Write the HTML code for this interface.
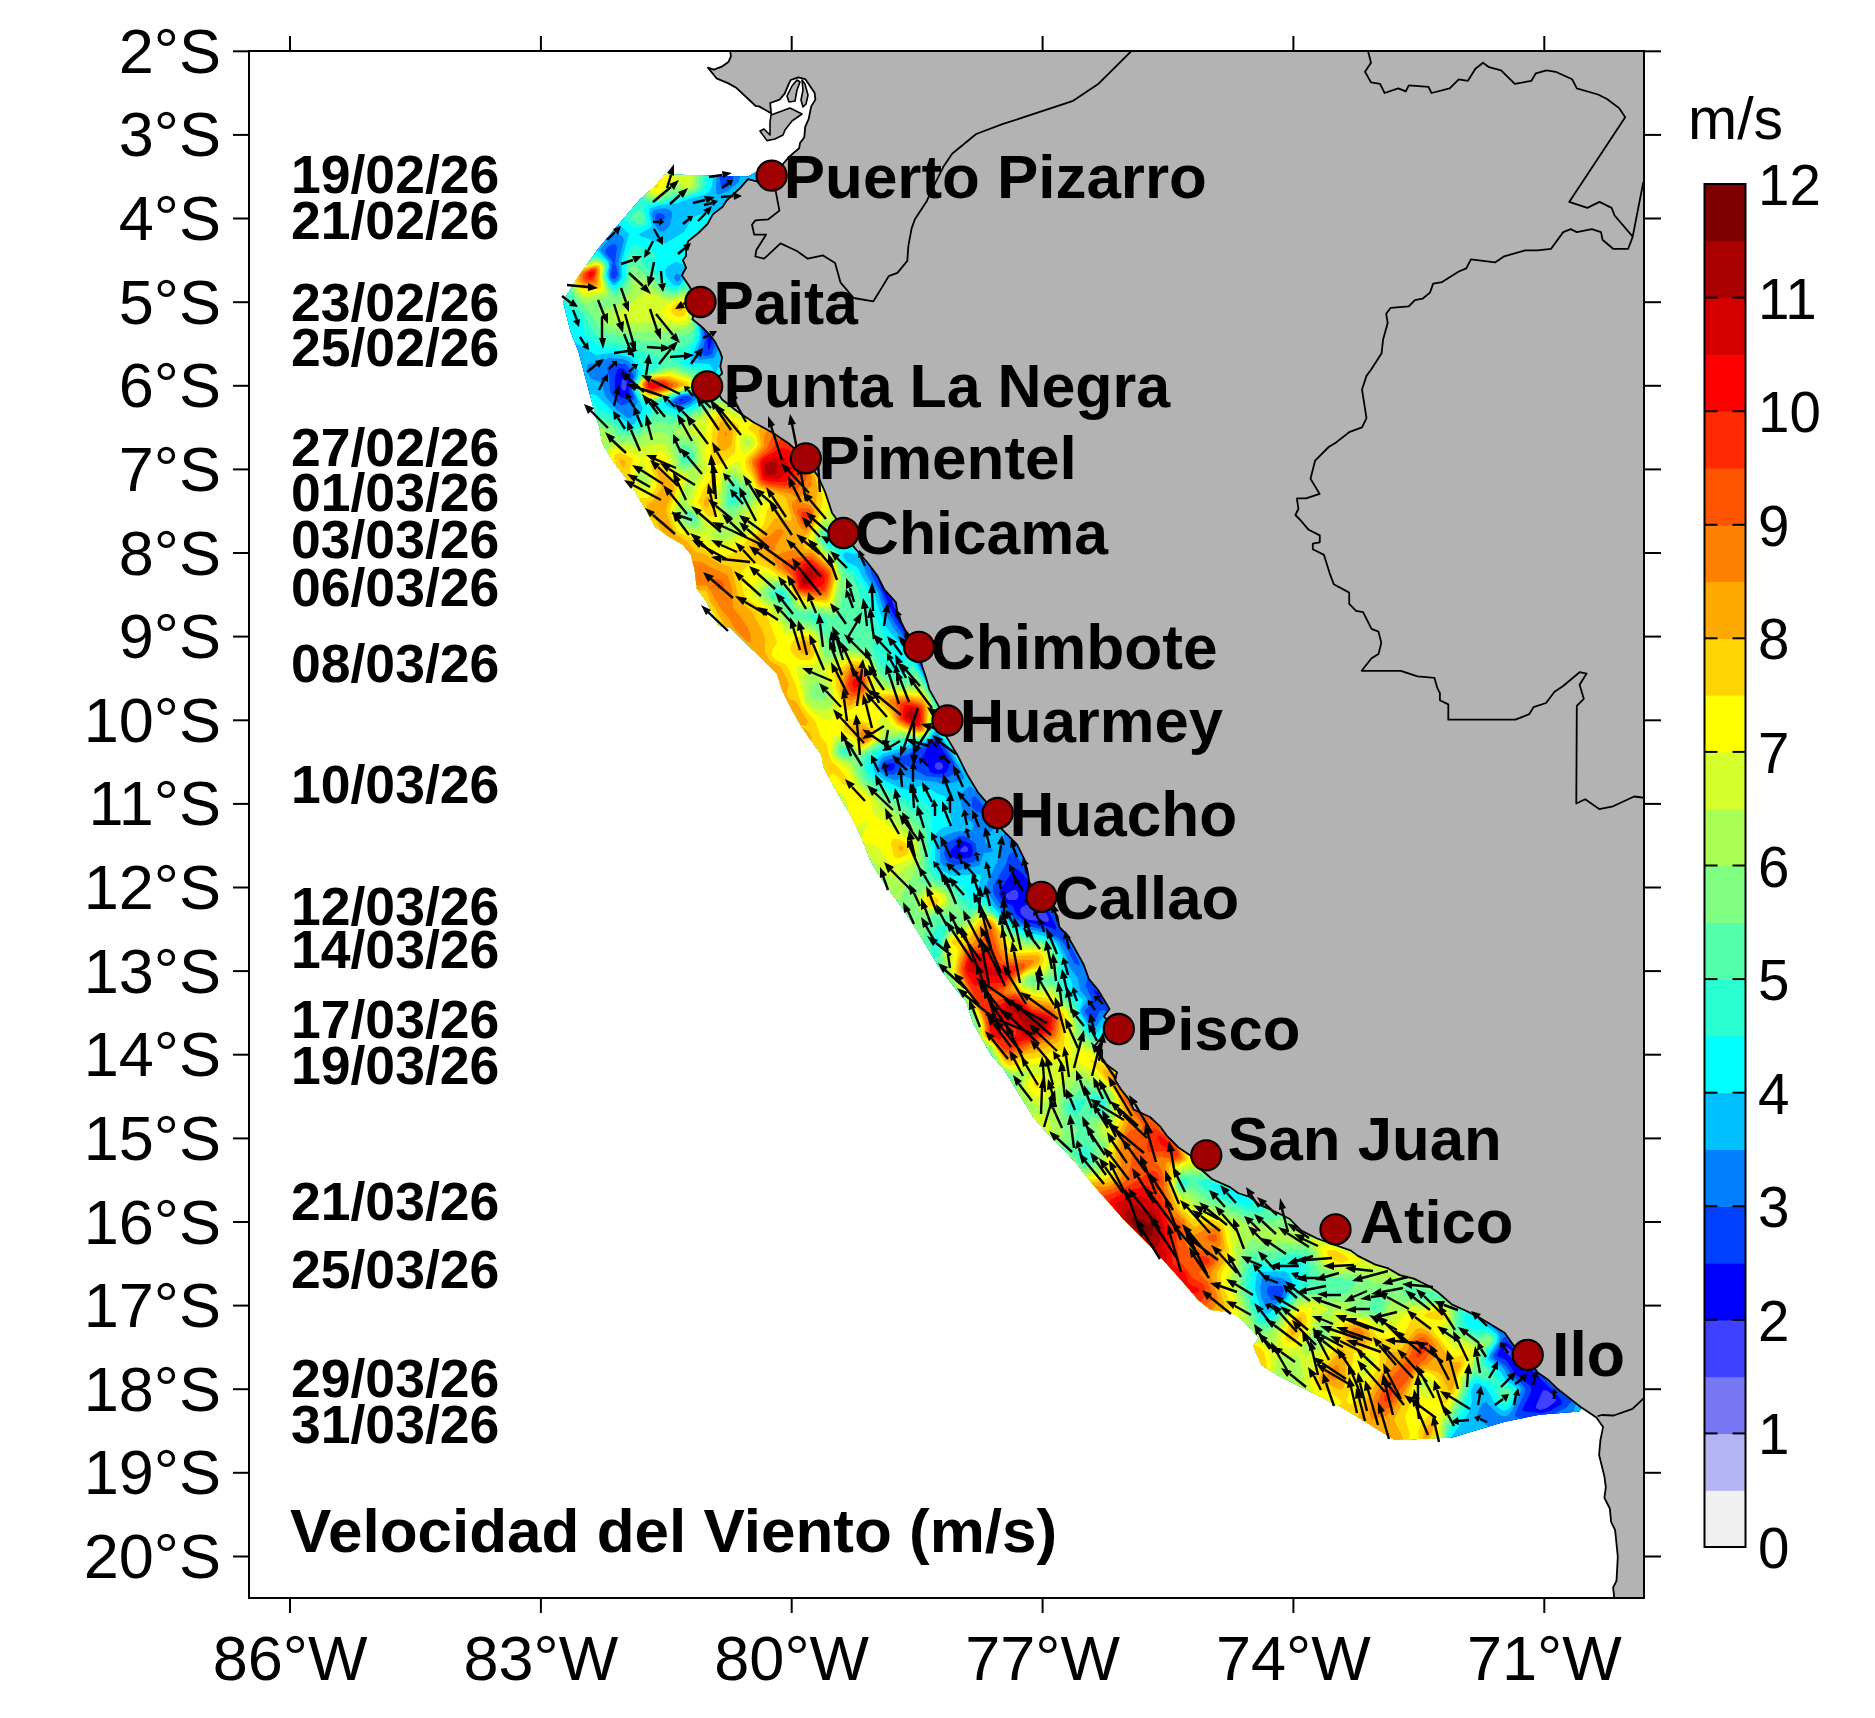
<!DOCTYPE html>
<html><head><meta charset="utf-8"><style>
html,body{margin:0;padding:0;background:#fff;}
body{width:1875px;height:1718px;overflow:hidden;}
svg{display:block;}
text{font-family:"Liberation Sans",sans-serif;}
</style></head><body>
<svg xmlns="http://www.w3.org/2000/svg" width="1875" height="1718" viewBox="0 0 1875 1718">
<rect width="1875" height="1718" fill="#fff"/>
<clipPath id="fr"><rect x="249" y="51" width="1395" height="1547"/></clipPath>
<g clip-path="url(#fr)"><clipPath id="bandclip"><polygon points="748.0,176.5 664.9,174.6 655.3,186.1 639.9,199.6 616.8,226.5 597.6,249.5 578.4,276.4 563.0,301.4 570.7,332.1 578.4,351.3 586.1,380.2 593.8,409.0 599.6,428.2 602.0,442.0 611.7,459.6 631.5,485.3 645.3,509.1 655.2,526.9 669.0,536.8 682.9,544.7 690.8,554.6 694.8,570.4 696.8,588.2 706.7,602.1 718.5,625.8 730.4,627.8 738.3,635.7 752.2,649.6 762.0,659.0 777.0,674.0 782.0,690.0 791.0,708.0 801.0,726.0 813.5,744.0 821.5,755.0 823.3,766.2 830.8,781.1 838.2,794.2 849.4,812.8 856.8,827.7 864.3,844.4 869.9,859.3 877.3,872.4 888.5,889.1 902.8,908.4 919.6,934.5 938.2,966.1 956.8,990.4 966.1,1001.5 973.6,1023.9 990.4,1053.7 1003.4,1068.6 1018.3,1092.8 1033.2,1117.0 1046.2,1131.9 1064.8,1150.5 1079.7,1167.3 1091.5,1183.1 1109.3,1202.9 1123.1,1218.7 1139.0,1234.6 1154.8,1250.4 1170.6,1268.2 1186.4,1286.0 1198.3,1299.9 1210.2,1309.8 1226.0,1311.8 1237.9,1315.7 1249.8,1327.6 1259.0,1338.0 1253.0,1346.0 1261.7,1365.2 1277.5,1375.1 1297.3,1385.0 1317.1,1394.9 1336.9,1404.8 1351.0,1413.0 1373.6,1427.0 1394.6,1440.0 1434.7,1438.3 1452.2,1437.4 1504.6,1421.7 1539.5,1414.7 1579.0,1411.5 1588.0,1398.0 1600.0,700.0 900.0,300.0 760.0,170.0"/></clipPath>
<g clip-path="url(#bandclip)"><polygon points="748.0,176.5 664.9,174.6 655.3,186.1 639.9,199.6 616.8,226.5 597.6,249.5 578.4,276.4 563.0,301.4 570.7,332.1 578.4,351.3 586.1,380.2 593.8,409.0 599.6,428.2 602.0,442.0 611.7,459.6 631.5,485.3 645.3,509.1 655.2,526.9 669.0,536.8 682.9,544.7 690.8,554.6 694.8,570.4 696.8,588.2 706.7,602.1 718.5,625.8 730.4,627.8 738.3,635.7 752.2,649.6 762.0,659.0 777.0,674.0 782.0,690.0 791.0,708.0 801.0,726.0 813.5,744.0 821.5,755.0 823.3,766.2 830.8,781.1 838.2,794.2 849.4,812.8 856.8,827.7 864.3,844.4 869.9,859.3 877.3,872.4 888.5,889.1 902.8,908.4 919.6,934.5 938.2,966.1 956.8,990.4 966.1,1001.5 973.6,1023.9 990.4,1053.7 1003.4,1068.6 1018.3,1092.8 1033.2,1117.0 1046.2,1131.9 1064.8,1150.5 1079.7,1167.3 1091.5,1183.1 1109.3,1202.9 1123.1,1218.7 1139.0,1234.6 1154.8,1250.4 1170.6,1268.2 1186.4,1286.0 1198.3,1299.9 1210.2,1309.8 1226.0,1311.8 1237.9,1315.7 1249.8,1327.6 1259.0,1338.0 1253.0,1346.0 1261.7,1365.2 1277.5,1375.1 1297.3,1385.0 1317.1,1394.9 1336.9,1404.8 1351.0,1413.0 1373.6,1427.0 1394.6,1440.0 1434.7,1438.3 1452.2,1437.4 1504.6,1421.7 1539.5,1414.7 1579.0,1411.5 1588.0,1398.0 1600.0,700.0 900.0,300.0 760.0,170.0" fill="#a0ff60"/><rect x="550" y="160" width="1060" height="1295" fill="#f0f0f0"/>
<path d="M552 160l1058 0 0 1296-1060 0 0-1296 2 0z" fill="#b4b4f4" fill-rule="evenodd"/>
<path d="M552 160l1058 0 0 1296-1060 0 0-1296 2 0z" fill="#7878f5" fill-rule="evenodd"/>
<path d="M552 160l1058 0 0 1296-1060 0 0-1296 2 0z" fill="#4040ff" fill-rule="evenodd"/>
<path d="M552 160l1058 0 0 13-22 11-540 314-48 28-9 6-1 2 2 5 24 35 4 3 4-1 528-181 58-19 0 206-86 42-16 9-330 167-6 4 0 2 22 34 4 3 3-1 306-180 99-60 4-2 0 88-4 4-2 0-4 4-6 2-4 4-6 2-4 4-6 2-4 4-6 2-4 4-6 2-4 4-6 2-4 4-6 2-4 4-6 2-4 4-6 2-4 4-6 2-4 4-6 2-4 4-6 2-4 4-6 2-4 4-6 2-4 4-2 0-2 2-2 0-4 4-6 2-10 8-6 2-4 4-6 2-4 4-6 2-4 4-6 2-4 4-6 2-4 4-6 2-4 4-6 2-4 4-6 2-4 4-6 2-4 4-6 2-4 4-6 2-4 4-2 0-6 4 2 0 2-2 2 0 2-2 2 0 2-2 2 0 2-2 2 0 2-2 2 0 2-2 2 0 2-2 2 0 2-2 2 0 2-2 2 0 2-2 2 0 2-2 2 0 2-2 2 0 2-2 2 0 2-2 2 0 2-2 2 0 2-2 2 0 2-2 2 0 2-2 2 0 2-2 2 0 2-2 2 0 2-2 2 0 2-2 2 0 2-2 2 0 2-2 2 0 2-2 2 0 2-2 2 0 2-2 2 0 2-2 2 0 2-2 2 0 2-2 2 0 2-2 2 0 2-2 2 0 2-2 2 0 2-2 2 0 2-2 2 0 2-2 2 0 2-2 2 0 2-2 2 0 2-2 2 0 2-2 2 0 2-2 2 0 2-2 2 0 2-2 2 0 2-2 2 0 2-2 2 0 2-2 2 0 2-2 2 0 2-2 2 0 2-2 2 0 2-2 2 0 2-2 2 0 2-2 2 0 2-2 2 0 2-2 2 0 2-2 2 0 2-2 14-6 2-2 2 0 2-2 2 0 2-2 2 0 2-2 2 0 2-2 2 0 2-2 2 0 2-2 2 0 2-2 2 0 2-2 2 0 2-2 2 0 2-2 14 0 0 562-78 38-5 4 3 7 10 13 8 4 12 2 0 24 2 5 4 3 2-1 3-5 6-16-1-6-4-6-2 0 0-2-2 0 0-2 34-36 8-5 0 147-1060 0 0-1296 2 0zM622 380l-1 6 1 3 2 2 2-2 1-7-1-2-2-1-2 1zM883 568l1 9 10 29 24 39 10 12 40 43 18 18 6 4-8-14-32-46-62-88-6-7-1 1zM935 764l0 4 3 2 2 0 3-2 0-2-1-3-4-1-3 2zM964 846l-4 4 1 2 6 0 1-2 0-2-2-2-2 0zM1312 868l2 0-2 0zM1308 870l2 0-2 0zM1013 890l-7 4 0 4 3 2 7 0 2-2 0-6-2-2-3 0zM1031 898l-2 6-7 3-2 3 1 4 4 4 4 2 19 2 1-2-1-4-8-12-6-7-2-1-1 2zM1504 1348l0 3 6 5 8 11 8 5 0-2-4-6-12-15-4-2-2 1zM1542 1392l-6 14 0 2 4 2 7-2 8-6 1-2-2-4-6-5-4-1-2 2z" fill="#0000ff" fill-rule="evenodd"/>
<path d="M552 160l928 0 0 12-2 2-4 0-2 2-4 0-2 2-4 0-2 2-4 0-2 2-4 0-2 2-4 0-2 2-4 0-2 2-4 0-2 2-4 0-2 2-4 0-2 2-4 0-2 2-4 0-2 2-4 0-2 2-4 0-2 2-4 0-2 2-4 0-2 2-4 0-2 2-4 0-2 2-4 0-2 2-4 0-2 2-4 0-2 2-4 0-2 2-4 0-2 2-4 0-2 2-4 0-2 2-4 0-2 2-4 0-2 2-4 0-2 2-4 0-2 2-4 0-2 2-4 0-2 2-4 0-2 2-6 2-12 10-2 0-4 4-2 0-4 4-2 0-6 6-2 0-4 4-2 0-6 6-2 0-4 4-2 0-6 6-2 0-4 4-2 0-6 6-2 0-4 4-2 0-6 6-2 0-4 4-2 0-6 6-2 0-6 6-2 0-4 4-2 0-6 6-2 0-4 4-2 0-6 6-2 0-4 4-2 0-6 6-2 0-4 4-2 0-14 12-2 0-4 4-2 0-12 10-2 0-108 108 0 2 6 8 0 2 4 4 0 2 4 4-4 20 1 6 27 40 4 3 4 1 588-201 0 200-90 44-12 8-334 169-5 4 2 6 23 34 4 2 4-1 228-134 180-108 0 66-12 7-322 194-36 22-5 4-1 2 2 6 10 14 6 4 20 6 0 2 6 6 0 2 4 4 0 2 4 4 0 2 4 4 0 2 4 4 0 2 4 4 0 2 4 0 6-4 4 0 2-2 2 0 10-6 4 0 2-2 14-6 4-4 14-6 6-6 2 0 6-6 2 0 8-8 2 0 6-6 2 0 6-6 2 0 6-6 2 0 6-6 2 0 6-6 2 0 6-6 2 0 6-6 2 0 20-18 2 0 10-10 2 0 20-18 2 0 45-44 33-24 24-20 6-3 0 546-82 40-4 3 0 2 8 14 10 12 13 20 6 12 11 9 2-1 32-46 4-3 0 109-1060 0 0-1296 2 0zM613 272l1 2 0-3-1 1zM711 318l-3 5-1 5 1 22 2-2 3-12 1-16-2-3-1 1zM617 370l-2 8 0 12 5 7 2 1 4 0 3-2 1-2-1-6 2-8-1-4-6-7-4-1-3 2zM679 400l1 1 4-1-2-1-3 1zM846 462l6 29 24 83 13 32 61 103 14 17 218 234 36 38 16 15 1-1-1-2-4-7-34-49-340-482-8-11-2 0 0 1zM933 742l-6 6-5 10 4 5 4 9 6 2 8 0 2-2 3-4 0-8-11-18-2-1-3 1zM887 764l-2 4 1 2 4 1 3-1 2-4-1-3-7 1zM959 842l-8 8-1 4 2 3 6 2 10-1 4-2 1-6-2-6-7-3-5 1zM1013 870l-13 20-1 4 3 6 4 3 7 3 3 8 10 8 20 4 10 4 0-4-5-10-21-34-10-11-4-2-3 1zM1094 992l6 7 3 1-5-8-4-2 0 2zM1506 1342l-2 1-6 9-1 4 9 4 10 15 12 9 3 4 0 4-9 18 4 2 16 1 8-2 12-7-1-4-3-4-22-22-26-29-4-3z" fill="#0040ff" fill-rule="evenodd"/>
<path d="M552 160l168 0-1 12 2 14 1 3 7-3 4-6 1-20 731 0-9 4-180 61-16 14-56 39-147 106-26 24-72 72-4 6 1 4 25 38 5 10 15 24 14 18 3 2 4 0 588-201 0 196-6 2-84 42-12 7-334 169-5 3-2 4 2 6 20 30 4 6 8 6 7 10 6 4 18 4 4 4-5 20 1 8 56 80 2 2 2 1 58-25 16-9 10-4 74-55 65-54 71-74 8-10 12-11 4-2 0 391-2 2 0 2-4 4-2 6-4 4-2 6-4 4-2 6-4 4-2 6-8 10-2 6-4 4 0 2-6 8-2 6-4 4-2 6-8 10 0 2-6 8-2 6-4 4-2 10-2 2 0 4-2 2-2 10-2 2 0 4-2 2 0 4-2 2 0 6 6 8-6 16 0 8 30 44 7 14-1 1-6-5-46-49-2 0-11 19 3 4 10 6 6 10 10 8 3 4 0 4-10 22 0 2 3 2 8 0-6 2-2 3 0 3 10 16 2 14-980 0 0-1296 2 0zM656 214l-1 2 1 4 4 3 2-1 3-4-1-3-4-2-4 1zM609 246l-3 3-1 3 8 10-3 12 1 4 3 1 2-1 2-4-3-12 2-14-1-3-2-1-5 2zM722 268l-16 28-4 10 0 11 3 23-3 12 0 2 2 2 4 0 4-2 2-6 9-60 1-16-2-4zM809 356l1 8 8 30 48 158 6 24 9 16 6 18 25 40 52 94 18 30 14 16 374 402 78 82 24 23 0-3-12-18-88-126-552-783-8-11-2-2-1 2zM610 364l-3 4 2 8 1 16 8 11 2 2 4 0 9-5 1-2-3-12 3-10-8-12-10-1-6 1zM682 396l-7 4-1 2 2 2 4 1 4-1 7-4 1-2-4-2-6 0zM1148 656l-20 4-40 16-3 2 0 4 3 4 4 3 18 4 44-31 3-4-3 0-2-2-4 0zM935 738l-13 9-16 8-20 5-4 4 0 6 6 4 6 1 8-9 4-1 20 11 18 2 7-2 5-5-2-9-12-19-4-5-3 0zM972 798l0 10 5 4 9 3 0-3-2-4-6-9-4-3-2 2zM959 836l-13 8-2 10 2 6 4 3 6 2 18-3 2-2 1-4-1-12-6-5-6-3-5 0zM1009 854l-3 10-13 22 0 6 2 4 5 8 6 4 6 8 10 7 6 3 18 4 14 9 7 9 7 15 5 3 1-2-4-8-19-36-20-34-21-31-4-3-3 2zM1087 978l-1 8 6 14-1 4-6 6 0 2 5 8 2 2 2 0 6-11 4-1 22 23 4 2 4-2 0-3-2-4-29-36-11-11-4-2-1 1zM1269 1286l-2 2 0 4 4 8 5 0 6-4 2-6-2-4-13 0zM1608 1352l2-1 0 105-57 0 0-12-4-28 17-8 4-5 5-3 33-48z" fill="#0080ff" fill-rule="evenodd"/>
<path d="M552 160l166 0-1 8-1 24 2 3 10-4 11-9 1-4 0-18 717 0-181 61-7 9-11 9-84 59-106 76-34 26-80 65-4 19 0 6 26 40 2 4 0 3-198-280-6-8-1 1 0 2 3 16 12 42 74 238 2 8 0 10 2 8 12 18 5 16 9 18 16 21 15 25 56 106 14 28-1 3-18-20-4-3-2 1-5 5-3 6 3 16 3 4 6 4 1 2 0 4-3 4-12-1-12 4-4 2-2 11 0 14 4 4 12 5 22-5 2-2 4-11 8-1 1-2-8-8 0-2 1-4 4-4 4-3 9 1 1 4-2 12-5 16-9 19-2 7 1 4 11 16 9 8 13 9 8 4 18 4 13 9 8 16 3 10 8 10 2 12 7 8 0 4-5 6-1 4 9 13 4 3 2-1 6-9 2-1 2 0 40 47 16 16 1-2-1-12 3-4 0-2-20-30-1-2 2-2-2-6-104-142-12-19-1-3 1-1 26 24 38 38 388 398 18 17 2 4-1 6-8 12-1 4 13 10 6 10 11 8 1 4-7 17-4 6-4 3-4 0-4-2-12-12-4 2-4 8-1 4 2 4 12 8-3 10 5 18-943 0 0-1296 2 0zM692 202l2 2 2 0 2-2-6 0zM654 210l-3 4 2 6 5 10 2 2 4-1 4-3 2-4 2-8 0-4-2-2-6-2-10 2zM731 220l-34 64 0 14 5 40-6 18 1 2 3 2 14-2 3-6 17-117 0-17-3 2zM614 234l-12 13-2 3 10 12-1 14 1 4 4 3 4-3 2-4-1-16 5-20-2-4-4-2-4 0zM676 274l-2 4 2 3 2 0 2-1 1-4-2-2-3 0zM815 282l-2 4 3 3 6 2 5-1-1-4-4-4-4-1-3 1zM609 358l-13 5-8 1-1 4 2 8 3 3 8 3 2 2 3 12 11 13 12 9 3 0 2-2 1-8 4-6-6-14 0-4 4-8 0-4-8-11-6-2-13-1zM679 396l-4 2-4 4 3 4 6 2 10-4 10-8-14-2-7 2zM934 736l-4 4-8 5-38 12-3 3-2 4-1 4 2 4 6 5 8 3 4 0 6-4 8 3 24 3 8 3 18-5 2-2 0-2-14-24-12-17-2-1-2 2zM1262 1278l-2 8 1 10 4 10 3 2 2 0 15-10 3-6 1-6-3-5-4-3-14-2-6 2zM1606 384l4-1 0 29-6 2-4 4-10 4-4 4-10 4-4 4-10 4-4 4-10 4-4 4-10 4-4 4-10 4-4 4-10 4-4 4-10 4-4 4-10 4-4 4-10 4-4 4-10 4-4 4-10 4-4 4-10 4-4 4-10 4-4 4-10 4-4 4-10 4-4 4-10 4-4 4-10 4-4 4-10 4-4 4-10 4-4 4-6 2-4 4-6 2-4 4-6 2-4 4-6 2-4 4-2 0-6 4-22-2-12 4-84 41-65 25-7 4-4 5-7-7-60-90 0-2 1 0 24 6 8 0 2 0 2-2 4 0 2-2 4 0 2-2 8-2 2-2 14-4 8-4 4 0 2-2 4 0 18-8 10-2 6-4 4 0 192-70 274-102zM1086 692l18 24 6 2 22 2 0 2 4 4 0 2 4 4 0 2 4 4 0 2 4 4 0 2 4 4 0 2 4 4 0 2 4 4 0 2 4 4 0 2 4 4 0 2 4 4 0 2-10 25-57-83-19-29-1-3 1 0zM1608 743l2-1 0 362-72 117-16 29-19 54 0 4 11 16 0 4-20-28-83-122-91-135-27-39-7-10-1-4 1-2 4 0 59-26 17-9 12-4 66-50 72-60 72-75 8-10 12-11zM1206 870l6 5 12 19 1 4-1 1-2-3-12-17-4-7 0-2zM1610 1355l0 69-28 0-6-6-2-6 1-6 35-51z" fill="#00c0ff" fill-rule="evenodd"/>
<path d="M552 160l163 0-3 26-3 6-5 3-13 3-13 5-22 3-6 2-1 6 3 12-2 2-11 6 1 2 6 2 14 5 6 0 18-11 8-14 6-3 17-3 0 4-3 6-22 43-2 2-2-1-6-3-4-1-8 4-3 4 0 4 4 6 3 4 4 2 4-1 6-9 2-2 2 2 10 58-1 6-9 20 1 2 3 1 14 1 3 2 3 6 2 0 3-6 2-8 23-152 2-6 2 0 4 8 7 20 99 316 1 6-1 3-4 1-8-2-3 2 1 4 3 4 9 4 2 2 6 12 10 12 5 18 8 18 6 8 13 13 10 14 48 91 12 24 2 8 0 1-2-2-6-6-26-39-8-9-2 1-4 6-8 5-10 1-10 4-20 6-4 4-4 6-1 4 1 4 10 8 18 9 8 1 10-4 6 0 12 8 7 2 7 26-4 4-9 4-3 4-1 24 3 10 4 3 12 5 22-2 4 1 1 3-4 12 1 4 8 4 8 10 8 8 20 14 8 3 14 3 12 7 8 15 2 14 5 8 3 12 9 8-4 12 10 16 5 4 4 1 6-9 2-1 4 3 44 54 42 47 2 2 2-1-8-22 0-8 3-8-11-20 6 2 24 17 4 1 0-2-72-100-4-6 0-2 18 15 64 64 256 262 17 13 1 4-1 4-8 12-1 6 10 8 8 12 11 8 0 6-7 14-6 3-4-2-4-4-10-17-8-5-4 1-3 8 1 10-3 10-17 24 0 8 3 12-905 0 0-1052 42-10 4 1 20 19 14 11 4-1 2-2 7-14-10-20 1-4 4-8 1-4-5-10-4-5-20-4-14 2-22-13-24 5 0-187 2 0zM584 216l0 4 10 12 2 2 6 0 2 1-6 10-1 5 11 12 1 4-2 8 1 4 4 7 4 0 6-7 0-18 7-26-7-7-10-7-22-6-6 2zM707 384l-5 2-6 7-15 1-9 4-7 6 2 2 11 5 10-3 16-10 6-12-1-2-2 0zM1260 1272l-3 2-1 4-1 12 5 16 4 7 4 1 18-14 5-8 2-8-4-10-5-3-24 1zM1260 222l8-1 3 3-1 4-10 9-46 31-174 125-102 69-6-1-5-5-82-120-4-8 1-4 4-5 34-28 4-2 172-27 204-40zM1606 386l4-1 0 10-282 161-62 37-32 15-80 40-72 28-4 0-5-4-37-56 0-4 2-4 12-5 300-115 256-102zM1608 744l2-1 0 359-18 27-67 111-12 22-3 14-6 18-2 3-2 0-3-3 1-4 11-24-1-1-6 5-10 11-4 1-4-4-21-30-11-20-15-18-52-76-9-16-27-40-5-10-18-28-9-8-7-8-19-28-1-4 2-4 10-5 49-21 17-9 11-3 65-49 20-18 52-42 37-39 6-8 29-29 7-9 13-12z" fill="#00ffff" fill-rule="evenodd"/>
<path d="M622 160l87 0-3 26-2 4-7 4-17 5-34 7-1 4 3 14-6 3-8 1-9-8-8-10 0-2 13-1 9-5 1-2 0-6-2-6-15-24-1-4zM750 221l4 5 10 28 85 268 5 20-2 4-4 0-10-4-8-5-2 1-1 4 3 3 7 3 7 16 10 7 7 11 9 12 3 18 20 40 0 2-2 8 1 6 4 4 4 0 6-14 4 2 4 4 10 16 22 42 16 32 5 12-1 1-4-4-20-29-6-6-2 0-6 10-6 3-12 1-8 3-22 5-4 4-7 10-1 4 1 4 13 12 24 15 6 2 8-1 8 5 2 3 2 16 0 38 1 6 3 5 26 13 4 4 3 8 5 4 2 1 6-2 4 1 6 8 12 11 14 10 10 4 16 3 10 6 7 14 1 4-1 12 6 18 3 5 8 5 0 12 10 18 10 6 4-2 4-6 2-1 4 3 46 58 56 66 20 21 2 2 1-1-14-34-1-8 3-16-5-14 8 4 56 42 6 4 1-2-35-50-2-4-1-2 1 0 42 39 162 165 9 12-3 6 2 6 10 4 10-1 8 5 2 4 0 4-9 10-2 8 1 3 8 7 9 12 10 6 2 2-1 4-4 8-2 2-4 2-7-6-2-4-1-7-3-3-13-7-4 1-2 1-2 5-7 26-11 17-4 7 0 12 2 8-900 0 0-1050 34-7 6 0 4 3 4 7 10 4 18 15 4 1 7-3 9-12 6-5 10 0 14 4 4 0 12-4 14-8 8-13 8-6 4-12 20-138 2-8 2-3zM735 496l1 1 1-1-1-2-1 2zM936 938l-2 4 2 4 2-1 1-5-1-3-2 1zM1210 1184l2 4 12 8 24 10 4 0 1-2-1-3-4-4-26-11-8-2-4 0zM1289 1262l-13 4-18 1-4 2-2 3-2 12 4 17 6 15 4 4 7-2 15-14 12-18 3-22-3-4-9 2zM1258 224l10 0 1 2-2 4-9 7-44 30-132 96-52 36-72 47-16 12-6 2-4 0-5-6-36-52-44-66-4-8 0-4 5-5 32-26 6-3 172-27 200-39zM552 226l8 0 4 2 20 18 22 16 2 4-2 8 1 4 3 7 4 4 4-2 6-7 1-4 0-18 5-11 4-3 21 8 2 4-3 6 0 4 16 21 4 2 4-1 8-7 2 0 5 17 4 26 1 10-6 13-11 13 3 4 4 2 14 2 4 3 1 5-1 2-6 5-4 8-16 3-28 12-6-1-4-4-8-13 1-4 9-14-10-16-6-3-24-3-6-3-12-9-1-2-1-8-6-11-4-4-12-8-12 0 0-77 2 0zM1606 388l4-2 0 7-282 161-60 36-114 56-74 29-5-3-36-56-1-4 1-2 11-5 299-115 257-102zM1608 745l2-1 0 356-3 2-16 26-75 124-8 8-16 18-4 1-25-35-2-6-3-18-12-3-7-7-52-76-11-20-25-36-2-8-1-30 4-4 0-2 6-8 2-6 4-4 0-2 6-8 2-6 4-4 2-6 4-4 4-10 4-4 0-2 6-8 2-6 59-64 59-50 92-97zM1368 954l6-1 7 3 5 4 0 2 2 0 0 2-2 2 0 2-10 12 0 2-4 4 0 2-4 4 0 2-4 4 0 2-4 4 0 2-4 4 0 2-4 4 0 2-4 4 0 2-4 4 0 2-2 2-16 1-6-1-8-8-17-24-3-6 0-4 10-6 50-21 16-9z" fill="#2affd4" fill-rule="evenodd"/>
<path d="M624 160l81 0-3 26-4 5-12 5-6 1-6-1-10 5-16 1-3-2-5-12-16-28zM636 211l4 0 3 3 2 6-1 2-2 2-6 0-5-6 1-4 4-3zM1254 226l10-1 3 1 0 2-9 9-44 30-134 96-138 94-6 2-4-1-5-6-32-46-48-72-3-6 1-4 3-4 32-26 6-3 172-27 196-38zM754 241l4 6 8 23 82 260 1 6-1 2-2 2-6-2-10-6-4 0-2 4 0 6 4 6 8 4 8 17 6 5 4 6 8 20 3 14 7 16 2 22 8 15 8 8 10 3 3 0 3-2 5-8 3 0 2 2 16 28 18 35 5 13-1 1-16-21-4-2-4 10-6 5-6 1-10-1-22 5-11 6-9 8-3 4 0 4 2 8 3 4 16 13 30 21 11 14 2 8 1 30 4 12 22 12 8 13 8 8 4 0 6-4 4 0 12 10 10 10 10 8 12 5 16 3 8 5 7 14-2 20 9 18 9 8 2 10 7 16 6 5 10 6 4-1 5-6 5 2 40 52 70 84 8 10-2 2-2-1-20-6-10 1 0 2 1 2 6 6 7 5 34 16 12 2 6-2 0-5-10-20-2-8 4-28-2-8 2-1 2 1 96 74 10 6 1-2-1-4 2 1 12 10 78 77 3 6 0 12 3 6 14 7 10-2 4 1 3 2 1 2-1 4-8 10-3 8 1 4 10 12 0 4-17-5-6 5-12 32-11 20-1 14 2 10-898 0 0-1034 8 3 2 3 8 1 20-7 10-6 12 4 14 12 8 0 8-4 8-10 6-4 6 0 14 3 6 0 26-13 10-12 8-1 2-1 6-16 18-122 2-9 2-2zM685 454l-1 4 1 2 3 1 2-1 1-4-1-2-2-1-3 1zM732 488l-2 8 0 6 4 1 7-3 3-4-2-4-6-5-2 0-2 1zM775 590l-1 2 0 4 14 8 1-4-5-10-4-1-5 1zM808 616l14 10 2 1 2-1-1-6-5-4-8-2-4 2zM842 750l0 2 2 2 3 0 1-2-2-3-2-1-2 2zM937 926l-3 6-4 5-1 3 5 19 2-1 2-3 5-19 4-8-3-3-4 0-3 1zM1092 1096l-3 2 5 11 6 4 4-1 1-10-2-4-5-2-6 0zM1084 1098l-10 2-5 4-1 4 4 5 4 1 4-3 6-11-2-2zM1080 1148l-5 4 3 6 6 5 6-2 2-5-2-7-4-3-6 2zM1180 1180l-1 4 1 3 2 1 3-2 4-4-1-2-2-1-4 0-2 1zM1294 1254l-6 1-14 6-20 0-6 7-2 10 0 8 6 22 8 16 6 0 8-4 6-8 8-7 10-12 11-9 0-18-3-7-4-4-8-1zM1425 1296l3 0-3 0zM552 247l30 13 4 0 8-4 10 5 2 5-1 12 5 10 4 4 4-1 8-10 1-5 1-16 2-4 4-2 6 2 4 10 10 8 9 12 5 4 4 1 4 0 10-6 1 1 3 7 5 23 1 16-4 8-4 4-15 8-2 8 4 4 23 8 2 2-3 12-2 4-13 2-30 11-4 0-4-2-8-13 1-6 7-8 14-6 7-6-3-2-28-13-30-7-9-6-12-20-11-12-6-12-8-5-8-4 0-34 2 0zM1606 390l4-1 0 2-284 163-58 35-116 57-72 28-5-4-34-54-1-4 10-5 234-90 294-117 28-10zM1608 746l2-1 0 353-5 4-89 146-26 28-4-3-16-23-4-6-2-6 2-8 26-80 0-6-8 11-33 57-3 3-4-1-5-6-53-78-8-16-24-36-2-4 0-4 48-82 54-90 11-12 51-42 12-14 80-84zM1366 956l6-2 2 2-1 4-46 68-3 3-4 0-6-7-15-20-6-10 0-4 11-7 48-20 14-7zM1502 1388l6 0 3 4-1 4-4 4-4-1-2-3 0-6 2-2z" fill="#55ffaa" fill-rule="evenodd"/>
<path d="M626 160l74 0-1 26-3 4-8 3-6 1-8-2-10 6-14 2-4-3-19-33-1-4zM1256 226l6 0 3 2-9 9-56 39-120 86-140 95-4 1-4-1-2-2-33-47-52-80 0-4 5-5 30-24 8-4 170-26 198-39zM552 251l30 12 4 0 8-4 4 0 4 2 3 5-1 10 1 4 7 15 2 2 4-2 8-8 3-7 2-12 1-1 2-1 18 13 8 9 8 5 8 1 10-5 3 7 4 20 1 8-1 6-5 4-24 9-28-3-32-8-4-4-11-16-12-12-7-14-20-16 0-19 2 0zM758 262l4 7 8 22 73 231 0 6-1 4-4 1-12-5-4 4-2 8 6 9 6 3 4 4 11 26-8 30-1 2-4 2-22-5-16 0-2-2-2-9-6-11-4-3-8 0-4 4-2 4 3 4 11 7 8 13 18 4 6 3 11 11 5 11 22-2 12 3 7 8 7 15 6 6 8 4 14 2 3-1 5-6 2 0 4 4 10 16 12 25 2 8-8-8-2-1-2 3-3 11-5 4-6 1-12-2-18 3-27 16-3 2-1 2 5 16 2 4 36 28 22 23 2 7 0 32-3 12 1 2 10-2 18 7 3 5 3 10 10 12 4-1 10-7 4 1 11 7 11 12 8 7 12 6 16 2 8 5 6 12-1 10-3 6-4 3-16 0-2 2 2 1 18 1 6 3 8 14 9 8 8 24 5 6 16 9 4 0 4-5 2 0 4 3 44 58 61 73 0 2-1 1-18-4-20 1-3 2-2 4 1 6 2 2 4 0 8-3 16 13 12 4 22 11 22 5 8 1 6-2 4-3 5-40 1-2 4 2 22 16 106 85 14 13-2 1-26-5-3 2 0 2 1 4 2 2 8 0 10 5 18-1 6 1 4 3 3 6 0 14 2 6 19 9 4 0 8-3 4 2-1 4-7 8-4 8-1 4 1 7-6 3-7 8-6 18-6 14-9 15-1 9 0 12 2 8-887 0 0-12 8-8 2 0 12-12 2 0 22-20 2 0 12-12 2 0 22-20 2 0 12-12 2 0 10-10 2 0 10-10 2 0 12-12 2 0 10-10 2 0 10-10 2 0 12-12 2 0 10-10 2 0 22-20 4 1 0 1 4 1 1 1 11-2 20-12 132-104 61-60 5-12-2-4-14-10-38 0-2-2 0-12-4 4-6 2-4 4-6 2-4 4-2 0-2 2-2 0-4 4-6 2-4 4-2 0-2 2-6 2-4 4-6 2-4 4-2 0-2 2-4 0-14 8-4 0-2 2-2 0-14 8-4 0-14 8-4 0-18 10-4 0-6 4-24 0-2-2 0-24 4-4 2 0 18-18 2 0 18-18 2 0 18-18 2 0 2-2 0 2 4 0 1 2 9 1 6-1 14-8 48-32 31-10 1-2-1-4-13-18-3-6 0-2 7 4 19 18 3 2 0-2-5-6-13-22 4-26 2-5 7-9-5-9-4-1-4 0-8 0-4 2-1 10-4 10 2 10-1 2-13 2-6 4 1 2 10 4 1 2-19 0-4-4-2-6-4-4-2-6-4-4-2-6-6 0-2 2-2 0-2 2-14 6-4 4-2 0-4 4-2 0-6 6-2 0-4 4-2 0-4 4-2 0-4 4-2 0-2 2-2 0-2 2-2 0-2 2-2 0-2 2-2 0-2 2-2 0-2 2-2 0-2 2-2 0-2 2-2 0-2 2-2 0-22 12-2 0-2 2-2 0-2 2-2 0-2 2-2 0-2 2-2 0-2 2-2 0-2 2-2 0-2 2-2 0-2 2-2 0-2 2-2 0-2 2-14 6-2 2-14 6-2 2-2 0-2 2-2 0-2 2-2 0-2 2-2 0-22 12-2 0-2 2-2 0-2 2-14 6-2 2-2 0-2 2-2 0-2 2-2 0-2 2-2 0-2 2-14 6-2 2-2 0-2 2-14 6-14 8-12 0 0-662 20-4 28-11 13 5 4 4 3 6 14 0 8-3 8-8 6-3 6 0 10 2 8-2 30-15 10-11 8 2 4 0 3-4 4-12 17-112 2-7 2-1zM680 446l0 14 2 4 4 1 6-1 3-6-2-8-1-2-6-2-4-1-2 1zM729 482l-2 6-1 14 0 4 4 4 14-8 5-6-2-4-11-10-4-2-3 2zM686 512l-1 4 2 4 5 3 4-1 0-4-2-3-4-3-4 0zM840 746l-2 4 2 5 6 2 6-1-1-4-3-6-4-1-4 1zM1083 1088l-8 6-10 6-2 6 2 8 12 16-1 6-8 10 0 4 12 14 4 3 4 0 7-3 2-8-1-12-5-8-3-14 3-4 13 0 4-2 0-16-1-4-3-2-16-7-5 1zM1281 1250l-9 3-18-2-2 0-4 5-5 12-2 12 6 24 9 22 4 4 6-1 9-5 7-10 18-18 22-4 10 2 12 0 7-4 5-6-1-2-3-2-30-5-5-5-7-16-4-4-18-1-7 1zM1373 1296l-3 4-2 8 3 4 7 2 3-2 2-4 1-10-1-2-3-1-7 1zM1319 1334l0 2 1 1 2-1 0-3-3 1zM666 368l8-1 19 7 3 4-1 10-3 2-10 1-30 10-6 0-9-13 1-6 6-6 22-8zM1598 394l2 0-14 10-260 148-60 37-112 55-70 28-4 1-3-3-11-16-23-38-1-2 1-2 8-4 207-79 340-135zM1610 746l0 204-2 2 0 2-4 6 0 2-2 2 0 2-4 6 0 2-4 6-4 10-4 4 0 2-4 6 0 2-4 6 0 2-2 2-2 6-8 14 0 2-4 4 0 2-2 2 0 2-2 2 0 2-2 2-2 6-10 18 0 2-2 2 0 2-4 4 0 2-2 2 0 2-2 2 0 2-2 2 0 2-2 2 0 2-2 2 0 2-2 2 0 2-2 2-6 14-2 2 0-6-8-1-4 1-6 6-48 79-3 3-3 0-4-4-56-82-2-8-1-28 3-4 0-2 4-6 6-14 4-4 0-2 2-2 0-2 2-2 6-14 6-8 0-4 2-2 0-2 2-2 0-2 12-22 0-4 2-2 2-6 12-22 0-4 2-2 0-2 2-2 2-6 10-18 0-4 2-2 0-2 2-2 0-2 2-2 0-2 2-2 6-14 51-64 64-66 7-9 12-11zM1368 956l3 0 1 2-4 6-41 62-3 3-4 0-23-29-3-6 0-4 10-6 48-20 16-8z" fill="#80ff80" fill-rule="evenodd"/>
<path d="M628 160l68 0-1 26-3 3-6 2-4 0-4-3-4 0-5 2-7 7-8 1-4-1-4-4-17-27-2-6 1 0zM1250 228l10-2 4 2-1 2-7 7-56 38-121 87-139 94-4 1-4-1-2-3-34-47-51-78 1-4 4-4 22-18 14-9 172-27 192-38zM552 253l30 12 14-4 6 2 2 3-1 12 5 14-1 4-19 7-6-2-12-17-20-15 0-16 2 0zM634 278l2-1 12 6 11 9 9 5 6 0 10-4 2 0 3 7 3 18 0 6-2 4-22 4-30 0-22-4-10-4-5-6-1-4 5-4 13-6 11-10 3-4 0-6 2-6zM760 283l2 0 2 3 8 21 64 203 2 8 0 6-4 3-10-2-4 5-3 8 1 4 6 8 8 5 4 5 5 20-6 26-2 4-3 2-20-4-12 0-2-2-2-6-8-14-6-3-6-1-4 2-6 6-1 4 3 4 12 9 10 16 4 1 6 0 10 2 8 5 7 9 1 14 2 4 4 0 20-7 14 2 6 6 8 19 4 4 8 3 18 3 4-1 6-3 4 3 6 8 5 11 3 8-4 4-4 14-3 4-7 2-14-4-16 2-20 13-10 5-4-3-4-7-4-1-4-1-4 2-2 6 0 4 4 4 12 4 9 20 19 16 38 37 2 7-1 22-15 26-4 10-4-1-8-7-2 0-4 8-6-2-2 2 0 5 7 1-1 4-10 0-66 46-254 126 0-591 44-30 4-5 4-6-2-2-50 6 0-15 50-11 6 2 3 2 0 8 3 2 12-1 10 0 4-1 12-7 10-1 7 2 2 2 7 19 2 11 4 3 12-1 2-2 2-8-2-12-2-3-6-4-14-5 0-2 18-14 18-9 8-8 14 5 4-2 1-2 6-14 14-92 3-13zM728 476l-3 6-2 22 1 5 4 8 2 2 2 0 7-9 14-10 1-4-6-9-14-12-4 0-2 1zM682 508l-1 6 2 6 2 4 11 4 4-2-1-6-3-7-10-5-4 0zM813 684l-3 8 1 6 9 3 6-1 1-6-3-7-6-5-5 2zM668 369l8 1 16 7 2 5-1 6-11 2-30 10-6-1-8-11 0-4 2-4 6-4 22-7zM1578 404l3 0-257 147-59 37-113 56-61 24-11 3-12-16-16-27-1-4 1-8 8-4 215-88 303-120zM1610 747l0 171-12 20-91 176-12 16-40 68-7 11-2 1-2 0-57-82-3-6 0-6 21-40 19-32 91-194 13-18 62-64 8-10 12-11zM930 886l6 0 12 7 2 7 0 6-2 2-18 5-6 0-6-3-1-6 1-10 4-4 8-4zM980 911l4 1 10 4 14 17 8 6 10 5 16 1 7 5 4 10-2 12-5 3-14 1-4 1-3 3 1 4 6 2 18 1 4 2 9 13 9 9 4 13 1 10 3 4 10 7 14 7 4 0 4-3 2-1 4 3 50 66 42 51 1 2-1 2-16-1-12 1-3 2-2 4-1 8 4 7 10 1 14 11 18 6 20 10 28 7 16-1 28 3 2-4 3-18 3 0 28 20 61 50-1 2-13 0-7 4-16-2-7-4-11-4-16 0-14-4-5-4-9-18-4-4-24-1-14 2-18-6-4 4-6 11-6 24 8 28 9 22 3 6 4 2 4 0 6-3 8-8 7-11 13-13 4-2 12-1 16 4 16 0 3 2 9 8 10 3 10 4 4-1 4-4 6-17 2-1 3 6 3 2 14-3 8 3 18-1 8 2 3 3 2 4-1 16 1 4 23 11 7 1-9 22-10 14-2 10-3 8-15 26-1 10 2 22-871 0 2-4 16-14 188-158 32-23 132-103 61-48 5-11 6-1 1-6 0-10-15-10-5-6-7-13-10-9-2-4 0-8-5-16-11-19-6-7-7-10-5-16 0-14 3-10 33-25zM1077 1080l-8 10-8 6-2 4 0 14 4 20-3 10 5 8 13 14 6 5 6 0 8-2 2-3 1-14 4-6 0-4-7-6-2-10 2-4 10-1 3-3 0-20-3-6-16-9-10-5-5 2zM1321 1324l-10 14-1 6 2 1 8-1 7-6 1-4-1-10-3-2-3 2zM1366 958l3 0-1 4-42 62-4 4-2 0-19-24-7-10 1-4 9-5 34-15 14-5 14-7z" fill="#aaff55" fill-rule="evenodd"/>
<path d="M630 160l64 0-2 24-2 3-4 1-6-5-4-1-8 5-6 7-6 2-4-1-6-5-8-12-10-18 2 0zM1254 228l6-1 2 1 0 2-6 6-58 40-120 86-138 93-4 1-2 0-4-4-19-28-14-18-51-78 1-4 3-3 23-19 13-9 172-27 196-38zM552 254l30 12 14-4 5 2 2 4-1 10 3 10 1 4-4 2-14 3-6-1-9-12-23-17 0-13 2 0zM646 290l20 10 4 0 14-4 2 2 2 8 2 10-1 6-3 3-14 1-16-4-26 1-10-2-5-3-1-2 2-2 10-6 20-18zM764 303l4 5 8 20 57 180 0 6-1 4-2 2-6 1-3 3-6 12 0 4 9 13 8 5 2 2 3 8 2 10-5 24-2 5-2 1-30-3-9-11-5-11-12-4-4 0-4 3-7 8-2 4 3 4 13 10 11 17 4 4 12-1 6 1 6 2 5 5 3 6 1 20 1 4 16-6 12-6 12 2 4 2 3 4 7 20 3 4 20 4 23 1 6 7 4 12-4 20-4 5-6 1-14-4-10 0-8-4-2 2-2 6-3 4-17 11-4 0-2-1-6-9-10-2-5 3-2 8 1 4 2 4 10 5 4 3 8 18 15 12 5 6 7 10 18 18 11 8 2 6-1 16-3 4-7 4-7 8-6 1-4-2-16-16-6-2-4 2-2-1-10-9-1 1-1 13-3 3-283 162-12 6 0-226 4-4 2 0 4-4 2 0 6-6 2 0 6-6 2 0 4-4 2 0 10-10 2 0 20-18 2 0 10-10 2 0 10-10 2 0 20-18 2-6 8-10 2-6 8-10 2-6 8-10 2-6 4-4 0-2 4-4 0-8 2-2 0-4 8-3 2-3-4-8-2 0-3 2-3 6-14 0-2 2-8 0-2 2-4 0-2 2-4 0-6 4-4 0-6 4-4 0-6 4-4 0-6 4-4 0-6 4-4 0-6 4-4 0-6 4-4 0-6 4-4 0-6 4-4 0-6 4-4 0-2 2-14 0 0-187 4-2 42-30 14-16 14-2 14 3 10-3 16-2 6 9 4 14 2 4 4 2 8 2 1 2-2 6-10 26 0 6 3 8 2 4 4 2 12 4 7 0 0-4-5-14-4-4-6-4-3-4 15-34-1-14-2-12-1-4-8-6 0-2 2-4 8-8 12-7 6-5 4 0 14 6 4 0 3-4 5-12 12-80 2-9 2-4zM745 440l0 4 2 2 2 0 2-2 1-2-2-2-4-1-1 1zM639 470l-2 6 3 8 2 2 4 1 3-5-1-5-4-7-2-1-3 1zM729 470l-5 4-1 4-4 24 1 4 5 14 1 4-2 2-13 6-1 2 5 4 7 3 17-7 5-4 0-14 2-4 15-14-1-2-6-5-6-9-9-8-3-5-2-1-5 2zM808 672l-3 2-1 2 1 18 1 6 4 5 8 4 6 1 6-2 2-2 1-4-4-16-3-5-8-11-10 2zM848 848l0-1 0 1zM666 372l7 0 17 6 3 4 0 4-3 2-8 2-28 8-4 1-4-1-7-10 0-4 2-4 5-3 20-5zM566 438l34-1 3 1 1 2-2 3-8 3-44 4 0-9 16-3zM1306 544l4 0 0 4-4 10-9 8-12 8-23 14-109 54-71 28-4-3-10-15-2-8 2-10 1-2 23-8 16-8 4 0 16-8 14-4 6-4 4 0 2-2 4 0 2-2 4 0 2-2 4 0 6-4 4 0 2-2 4 0 2-2 10-2 6-4 4 0 2-2 4 0 2-2 10-2 6-4 4 0 2-2 4 0 2-2 4 0 2-2 4 0 6-4 4 0 2-2 4 0 2-2 10-2 6-4 4 0 2-2 4 0 2-2 4 0 2-2zM702 640l0 2-2-2 2 0zM1610 749l0 165-3 2-12 22-91 176-11 16-39 67-6 9-2 2-2 0-56-80-3-6 1-5 21-39 20-34 93-198 10-14 62-64 8-10 10-9zM928 890l6-1 10 5 2 2 1 4-3 6-12 4-6 0-4-2-2-4 1-8 7-6zM982 914l8 2 4 2 14 19 8 6 8 4 16 0 6 4 3 5 1 4-2 10-4 2-16 3-6 5 0 4 4 3 6 3 18 1 4 2 7 11 9 9 3 9 0 16 3 5 8 2 22 12 4 0 4-2 2 0 4 3 52 69 28 35 2 4-2 1-12 1-10 3-3 5 0 12 5 8 8 4 9 8 15 3 10 5 7 4 10 8 0 8-3 12 0 14-5 14 0 4 16 44 7 13 18 8 2 0 5-15 8-14 11-11 12-3 6 0 6 2 6 4 0 2-10 5-2 2-2 9-6 10-5 12-1 5 2 2 18-6 9-9 3-16 0-12 2-2 6 1 10 5 16 2 12 7 4-2 12-10 16-7 10 1 18-1 8 2 2 6-1 10-3 6 2 4 4 5 14 3 7 4 3 4-5 16-9 12-1 10-3 7-8 15-7 10-2 12 3 24-170 0 30-62 2-6-6-30-4-2-16-3-2 0-1 3-1 16-2 10-30 50-4 10-6 6 0 2-4 4 0 2-653 0 16-14 188-158 31-23 126-99 80-50 7-2 11 4 10 2 3 4 4 18 2 6 25 28 4 2 6 0 10-1 4-3 1-16 4-12-1-5-5-5-1-4 1-2 9-4 3-6-2-10 0-10-3-6-14-11-14-8-6-1-4 2-16 17-6 10-10 6-4 0-4-3-5-6-4-8 0-8 6-8-5-1-10 1-8-3-5-5-9-17-11-9-1-10-5-16-11-20-7-8-6-10-1-14-4-6 0-6 1-8 3-4 13-6 14-14 5-2zM1422 1380l-2 4 2 3 2 0 2-2 1-3-3-3-2 1zM1364 960l3 0-1 2-41 62-3 2-2 0-18-22-7-10 1-4 8-5 32-14 18-6 10-5zM1314 1238l30 8 4-1 2-4 2-1 4 2 10 6 20 16 6 6-1 2-3 1-10-4-22-1-14 3-14-5-4-2-3-4-9-20 2-2z" fill="#d4ff2a" fill-rule="evenodd"/>
<path d="M630 160l43 0-1 18-8 8-4 6-2 1-4-1-6-3-4-4-12-19-2-6zM1258 228l2 0 1 2-6 6-57 39-118 85-140 94-4 1-2 0-4-4-17-25-15-20-51-78 1-4 2-2 32-26 6-3 170-26 200-39zM552 255l30 12 14-4 4 1 2 4-1 8 2 10 0 4-3 2-12 1-6-1-8-9-24-17 0-11 2 0zM678 300l4-1 2 1 3 6 1 10-2 4-2 1-10 1-10-6-1-2-1-4 4-5 12-5zM768 325l4 4 8 21 48 152-1 8-9 15-5 11-1 5 10 13 11 8 2 6 2 10-5 22-1 4-3 2-28-5-7-7-4-10-3-3-20-9-4 1-2 2-9 15 0 4 3 4 16 12 16 25 18-3 6 2 6 6 2 4 0 6-2 12-4 3-14 1-2 2 8 34 6 8 12 9 6 1 10-7 1-3-6-18-1-8-4-10 0-3 2-2 10-5 10-6 10 1 6 3 4 7 4 17 2 3 16 3 30 1 4 4 3 7 1 6-2 18-4 6-6 1-22-7-10-10-4-2-4 4 1 16-8 8-11 5-3-1-5-9-16-4-2 1-1 2-2 12 0 4 3 6 12 8 4 6 5 12 15 14 4 15 12 8 12 11 13 8 2 6-1 8-4 4-8 3-6 2-4-1-10-16-4-2-10-2-4-4-1-2 6-12 0-4-3 0-8 5-2 0-3-1-2-6-2-18-3-6-4-3-5 1 0 4 4 16-1 4-6-6-18-25-1 1 2 10-1 4-15 12-23 24-218 129-8 4 0-145 8-4 38-27 8-8 66-55 42-66 4-20 1-4 7-4-8-16-6-6-4-2-7 4-33 7-18 8-90 36-8 2 0-173 6-3 40-28 16-17 6-1 8 1 16 8 16-6 4-1 4 5 6 15 4 4 6 2 1 3-10 30 5 14 4 6 14 6 26 13 4-1 9-6 18-10 5-12 0-10 10-12-1-2-11-6-6-11-7-7-3-10-2-1-14 7-4 6-4 28 4 16-2 4-6 2-4-1-7-11-8-8 0-2 6-16 10-18-3-8-1-10 2-30 3-4 10-6 18 9 6 0 4-4 6-13 10-67 2-8 2-2zM740 434l-1 4 2 12 1 4 2 0 9-6 3-6-2-4-4-3-6-2-4 1zM642 460l-7 8-1 6 6 16 2 2 4 1 6-6 1-5-9-21-2-2 0 1zM803 772l1 2 2 0-2-3-1 1zM806 776l0-1 0 1zM664 374l8 0 16 5 3 3 0 4-39 12-6-2-6-10 2-6 4-2 18-4zM928 893l6-1 7 4 2 4-1 4-4 3-6 1-4 0-3-2-2-4 1-4 4-5zM980 917l8-1 6 3 14 23 7 6 9 2 14 0 4 1 3 3 2 6-2 8-3 2-10 1-6 3-5 4-2 6 4 4 9 5 20 3 14 16 3 8 0 18 3 18-1 2-5 2-16 1-12 3-12 1-12 4-4-1-6-3-11-19-10-8-1-4 0-6-5-16-13-23-11-15-1-4 2-15-4-5-2-5 2-7 4-2 10-2 16-17zM1356 966l4-2 1 2-37 56-2 2-2 0-9-12-9-9-6-9 1-4 39-18 20-6zM1082 1051l4 0 22 11 4 1 6-2 4 3 69 92 2 6-15 5-3 3-2 12 1 8 6 10 12 12 4 2 18 2 8 4 5 4 2 8 4 28-1 4-5 10-1 6 8 20 5 18 11 20 4 4 10 4 4 4 2 4 1 12-2 6-59 84-346 0 0-12 14-14 0-2 20-20 0-2 18-18 0-2 20-20 0-2 12-12 0-2 22-24 0-2 6-6 0-2 6-6 0-2 6-6 0-2 6-6 0-2 12-14 0-2 6-6 0-2 8-8 0-2 6-6 0-2 6-6 0-2 12-14 0-2 6-6 0-2 4-4 0-2 4-6 2-10-2 0-4 4-14 6-4 4-14 6-4 4-2 0-4 4-2 0-16 12-2 0-10 8-2 0-10 8-2 0-4 4-2 0-4 4-2 0-4 4-2 0-10 8-2 0-10 8-2 0-4 4-2 0-6 6-2 0-4 4-2 0-4 4-2 0-10 8-2 0-4 4-2 0-4 4-2 0-4 4-2 0-4 4-2 0-4 4-2 0-4 4-2 0-4 4-2 0-4 4-2 0-10 8-2 0-10 8-2 0-4 4-2 0-4 4-2 0-4 4-2 0-4 4-2 0-10 8-2 0-4 4-2 0-4 4-2 0-4 4-2 0-4 4-2 0-4 4-2 0-4 4-2 0-4 4-2 0-4 4-2 0-10 8-2 0-4 4-2 0-4 4-2 0-4 4-2 0-4 4-2 0-4 4-2 0-4 4-2 0-4 4-2 0-4 4-2 0-4 4-2 0-2 2-78 0 6-6 242-168 210-129 6-3 4 0 18 19 6 8 8 0 20-2 2-5 0-16 4-14 0-4-3-6 8-10 2-4-3-10 0-10-4-6-14-15-25-17 9-7zM1228 1338l-2 6 0 3 2 1 4-2 0-4-2-4-2 0zM1426 1054l10 0 0 12-2 2 0 6-2 2 0 4-2 2 0 6-2 2 0 6-2 2 0 6-2 2 0 6-2 2 0 6-2 2 0 6-2 2 0 6-2 2 0 4-6 1-6 0-4-2-4-4-8-12-1-5 21-40 12-20 6-6zM1038 1076l4 2 4 10-1 4-7 5-4-2-3-3-3-4 0-4 2-5 8-3zM1322 1245l6 0 10 4 17 7 6 4-2 2-15 5-4 0-9-3-4-2-3-4-3-10 1-3zM1302 1308l10 0-2 18-10 18-4 4-4 0-8-2-3-4 2-12 7-13 8-8 4-1zM1436 1308l8 1 3 3-1 10-2 2-6 2 2 6 14 17 2 1 4-3 4-1 4 3 1 3-1 14-8 12-1 10-3 6-10 16-6 4-2 30 1 12-151 0 3-8 20-40 4-10-1-6-4-12 1-4 9-18 15-16 4-18 2-4 5-1 18 1 5 2 9 7 6 2 12-4 6-9 8-6 26-4zM1366 1356l-5 4-2 14 1 7 2 0 4-4 8-13 0-4-2-5-2 0-4 1zM1420 1376l-4 8 0 7 4 4 8 4 2-1 2-7 1-7-1-4-6-5-6 1z" fill="#ffff00" fill-rule="evenodd"/>
<path d="M636 160l20 0 2 2 1 12-1 13-1 1-9-2-6-6-6-12-1-4 1-4zM1250 230l8-1 2 1-6 6-70 47-106 77-141 94-5-2-19-28-14-18-52-78 1-3 2-3 32-25 6-3 170-27 192-37zM552 256l30 13 12-4 4 0 2 1 1 22-3 1-10 1-6-1-7-7-7-4-18-13 0-9 2 0zM680 302l4 2 2 8-2 4-6 1-5-3-2-4 4-6 5-2zM772 346l4 5 8 20 38 123 1 6-4 16-10 22 0 6 7 6 7 8 9 6 3 8 0 8-4 18-2 4-3 1-22-3-4-2-7-6-2-8-3-4-12-6-8-6-10-4-7 0-9 7-1 5 1 8 2 10 2 4 17 12 4 6 10 26-1 3-4 5 0 6 4 4 9 4 3 4 8 17 5 19 5 7 10 11 4 14 7 8 1 8 2 6 2 4 7 6 7 9 2 5 0 4-6-2-3-6-5-4-2 0-2 2-2 6-6 4-2-1-6-6-36-59-44-78-11-14-11-17-5-5-5-7-4-3-2 0-2 1-7 9 1 2 6-3 4 0 3 5-4 4-13 4-16 3-20 10-98 38 0-144 6-3 52-40 6-10 3-4-3-10 1-4 5-1 6 2 6 3 1 2-3 10 4 16-2 4-2 10 6 2 2 0 2-4 8 0 8-10 1-6-5-12-1-6 1-2 4-2 4-1 2 1 7 14 9 8 0 4-8 24 1 6 6 14 3 3 11 5 7 7 10 4 12 7 6 1 16-10 5-7 9-6 8-10 3-14 9-10 0-2-5-4-14-6-5-11-5-7-2-8 1-4 10-10 2-4-2-8-8-8 6-7 5-9 9-59 2-6 2-1zM650 522l-1 2 0 2 5 8 2 2 2-2-1-2-5-8-2-2zM660 376l10 0 18 6 1 2-1 2-20 6-16 4-4 0-7-8 1-6 4-4 14-2zM718 416l4-1 4 2 11 7 2 2 0 2-3 8-1 16-8 8-9 5-2-2-4-7-1-8 2-26 2-4 3-2zM712 478l2 0 1 4-2 22 2 10-2 2-3 1-4-3-8-12 6-14 8-10zM798 637l8-1 4 2 4 4 1 10-3 7-6 1-6 0-4-3-5-5-1-4 2-6 6-5zM720 644l2 0 3 2 46 76 11 22 26 42 3 8-1 4-37 38-216 128-7 3 0-138 12-6 34-25 8-9 68-56 42-67 3-18 3-4zM848 662l4-1 6 0 4 2 4 3 3 8 3 17 2 4 6-1 10 0 30 2 4 2 4 6 1 6-2 16-3 6-4 2-4-1-20-8-8-13-14-15-2 0-22 13-4 0-3-4-6-14-1-10-2-8 14-12zM848 719l8 0 16 5 4 8-1 6-9 7-4 2-3-1-5-9-10-5 0-6 4-7zM892 839l6 0 10 5 1 4-1 6-8 4-4 0-2-2-3-12 1-5zM932 896l6 2 1 4-3 3-4 1-4-1-1-3 1-4 4-2zM986 918l4 0 5 4 6 10 5 13 4 5 4 2 6 1 18-1 5 4 1 4-2 6-4 2-8 2-6 4-5 4-2 6 2 4 13 8 16 2 4 2 12 14 2 6-2 24-2 6-10 2-14 6-12 1-12 6-4 1-6-4-10-17-11-9 0-10-5-14-14-25-9-13 0-6 3-18-2-4-4-2-1-2 1-2 2-1 6 1 4-1 16-19 6-2zM1338 972l12 0-2 5-26 32-2 2-8-2-4-1-4-3-7-11 1-4 40-18zM1092 1060l20 8 8 0 4 3 16 20 47 63 1 4 0 2-15 8-1 16 1 8 7 14 12 12 2 1 12 0 8 1 8 4 2 3 5 23-1 10-6 12-1 6 1 6 8 18 1 14 5 10 10 12 6 6 8 4 4 4 3 14-1 6-55 76-4 8-333 0 2-4 14-16 54-58 40-48 82-109 17-39 9-3 14 0 5-3 2-4-1-16 3-14 0-12 7-12 0-4-5-20-26-32-1-2 2 0zM1225 1334l-20 28-1 2 1 2 5-1 32-15 0-4-9-10-5-2-3 0zM1034 1082l2-1 3 1 0 4-1 2-4-2 0-4zM1328 1250l6 0 9 4 5 4 0 2-6 3-10-3-4-4-1-4 1-2zM1300 1312l4 0 2 3 1 5-1 6-10 15-2 1-5 0-3-2-1-2 1-6 6-13 8-7zM1430 1312l8-2 4 1 2 3 0 4-2 2-4 0-11-2-3-2 1-2 5-2zM1416 1317l4 1 2 4 10 7 22 28 2 0 6-2 2 1 1 8-7 12-2 12-1 4-9 11-2 0-2-2-3-19-4-6-7-4-4 0-4 1-3 3-5 12-1 12-6 18 5 16-2 8 0 14-97 0 17-36 7-10 7-8-10-9-12-4-4-5-1-4 1-6 6-10 19-22 3-18 6-2 12 0 4 2 5 4 7 10 20 0 5-2 7-14 6-5zM1374 1342l-8 7-10 3-3 2-2 32-4 14 0 2 3 2 6-2 6-7 17-29 1-6-3-14-1-4-2 0zM1428 1416l4-1 3 3 2 4 0 10-3 8 0 16-13 0-3-24 3-8 7-8z" fill="#ffd400" fill-rule="evenodd"/>
<path d="M642 174l10 6 1 2 0 2-3 0-4-2-4-6 0-2zM1254 230l4 0 0 2-8 6-68 45-106 77-139 92-2 0-3-3-17-25-7-7-9-11-51-78 0-2 3-4 31-24 6-3 170-27 196-38zM552 257l18 7 10 6 4-1 10-3 4 0 2 4-2 16-10 1-6-1-6-7-6-1-20-14 0-7 2 0zM680 306l2 2 0 3-2 0-2-1 0-2 2-2zM774 367l2 0 2 2 8 18 31 97 1 6-2 10 1 10-1 8-6 13-7 7 0 4 1 6 10 3 8 9 8 5 2 3 2 8-2 10-3 10-3 4-6 0-16-3-8-3-2-3-2-8-3-5-10-6-9-8-9-6-6-8-3-6 1-4 9-8 4-2 8-11 4-1 12 3 2-1-6-22-4-3-20-7-4-2-10-24 2-4 11-12-2-16 5-12 7-42 3-9zM654 378l14-1 17 7-3 2-10 4-22 5-6-5-2-6 4-5 8-1zM722 421l8 4 3 5-1 12-1 4-5 4-4 1-4-4-1-7 2-14 1-4 2-1zM622 459l4 3-2 6-4-6 0-2 2-1zM658 468l2 0 14 18-1 6-6 14-1 6 9 22 13 8 6 9 10 3 14 9 12 4 2 2 7 31 13 12 11 20 2 6 0 14 3 6 2 3 9 5 3 3 7 15-2 8 1 5 2 3 4 0 2 2 11 18 1 2-2 4-8-2-2 2-1 6-1 1-4-3-8-13-38-69-20-24-9-16-5-6-3-10-3-2-6 1-4-3-27-46-11-22-6-5-3-5-1-4 6-4 9-14 0-4-4-12-1-2 2-2zM616 477l2 0 6 10 2 5-2 3-60 37-14 7 0-9 8-5 50-38 4-3 4-7zM706 497l2-1 1 2 0 6-1 4-4-4 0-3 2-4zM630 508l6-1 5 3 3 8 0 3-2 3-84 47-8 3 0-24 21-10 59-32zM654 542l4 0 4 3 9 19 9 10 4 7 7 9 1 4-2 4-20 19-12 8-108 42 0-25 50-34 49-62 5-4zM802 641l4-1 5 4 0 6-1 3-2 1-5 0-5-4 0-6 4-3zM720 648l2-1 2 2 46 77 3 8-3 16-4 4-10 2-6 4-4 0-2 2-4 0-2 2-4 0-2 2-4 0-2 2-4 0-6 4-4 0-2 2-4 0-2 2-10 2-6 4-4 0-2 2-4 0-2 2-10 2-6 4-4 0-2 2-4 0-2 2-10 2-6 4-4 0-2 2-4 0-2 2-4 0-2 2-8 0-2-3-1-7 3-7 64-53 5-6 40-64 5-20zM852 664l10 2 4 4 2 8 1 12-2 4-3 3-12 8-4 1-3-4-5-10 0-14 1-4 7-8 4-2zM884 697l6-1 14 0 18 3 4 5 1 6-1 15-2 5-4 2-4 0-18-8-4-6-3-8-8-10 0-2 1-1zM854 725l8 0 7 3 4 6-2 6-7 4-4 0-3-8-6-6 1-4 2-1zM802 730l2-2 6 5 2 5-1 2-9 1-4-3 0-4 4-4zM900 845l2 1 2 2-2 3-2 0-2-3 2-3zM932 901l2 1-2 0 0-1zM986 920l4 0 4 4 5 8 5 16 4 6 8 2 20-1 3 1 1 4-2 4-10 5-8 6-4 5-2 6 1 2 17 11 18 4 9 9 3 6-1 18-3 6-22 10-10 2-16 8-4-1-12-17-9-8-1-11-3-11-24-42 0-6 5-18 19-24 5-4zM1336 974l4-1 2 1-28 30-4 3-2 0-4-3-6-10-1-2 2-2 37-16zM1104 1069l10 4 6 0 6 5 58 76 1 4 0 2-5 3-10 2-1 3 1 22 7 18 17 19 9-3 7 0 8 2 4 4 3 18-4 6 3 8-7 10 0 6 1 7 6 17-2 12 9 14-1 2-10-3-2 0-4 17-14 22-1 6 1 5 4 6 4 1-2 2 0 2-22 24-2 0-34 34-2 0-10 10-260 0 2-4 14-16 52-56 42-50 82-109 14-32 8-6 6-1 10 1 6-2 4-4 1-5-2-18 5-22 6-16-7-22-15-20-1-4 1-1zM1336 1256l2 0-3 0 1 0zM1298 1317l2 0 2 1 0 6-6 9-4 3-2-4 2-6 2-4 4-5zM1350 1325l10 0 4 1 4 4 2 6-6 9-6 1-11-2-1-4 1-10 1-3 2-2zM1416 1329l4-1 8 3 9 9 15 22 9 0 0 4-6 10-1 9-2 5-2 1-2-1-6-14-4-4-12-3-8 2-3 3-10 24-11 22 9 18 1 18-64 0 2-6 10-16 8-22 25-44 2-14 3-2 6 0 6-4 10-15 4-4zM1250 1350l5 4 1 7-4 8-4 3-4 0-2-2 8-20zM1344 1350l1 6 1 20-1 6-2 6-3 2-10-5-8-1-2-2-1-4 3-6 16-19 4-3 2 0zM1430 1423l2 0 2 3-4 12 0 18-5 0-2-12 0-6 2-10 5-5z" fill="#ffaa00" fill-rule="evenodd"/>
<path d="M1246 232l8-1 2 1-22 16-34 22-140 88-26 14-14 10-2 0-2 2-2 0-2 2-14 6-4 4-2 0-2 2-2 0-2 2-2 0-18 10-2 0-2 2-2 0-4 4-2 0-18 10-4 0-12-3-8-3-4-4-59-88 0-2 3-3 31-25 5-2 170-27 188-37zM552 258l20 8 6 4 1 2-5 4-4-1-20-13 0-4 2 0zM590 268l6-1 2 1-1 14-1 2-2 1-10-1-4-4 0-6 2-2 8-4zM662 378l13 4 3 2 0 2-10 4-16 4-4-1-4-5-1-4 3-4 16-2zM778 388l4 3 6 13 24 74-1 8-12 12 2 4 11 4 2 4-1 10-3 6-4 5-4-2-3-3-7-18 0-5 5-5-6-4-23-6-8-3-2-3-6-18 0-4 12-14 0-10 6-11 5-29 3-8zM726 432l1 2-1 3-2-3 2-2zM776 530l4-1 3 1 1 2-6 10-6 12-4-1-4-5-4-5 0-3 2-2 8-2 6-6zM788 551l6-1 6 3 12 0 17 15 2 4 1 6-3 12-3 6-8 1-18-3-4-2-6-16-11-8-6-10 1-3 14-4zM682 554l10 7 10 1 10 6 14 6 2 2 4 12 1 20 7 8 8 12 3 8-1 6-2 0-4-3-10-11-5-10-7-7-14-24-4-2-6 1-2-1-14-26-1-5 1 0zM648 569l2-1 1 2 7 3 12-2 4 2 3 3 11 16 0 4-8 8-22 18-108 43 0-19 6-3 44-30 48-44zM850 668l8 0 6 3 2 5 1 10-1 4-3 4-9 6-4 1-4-3-4-12 3-10 5-8zM890 699l16-1 16 4 3 4 1 6-1 14-3 4-2 1-6-1-15-8-3-4-2-9-5-7 1-3zM862 731l4 1 3 4-1 4-4 2-2-1-1-3-1-6 2-1zM986 924l4-2 4 5 6 21 6 9 6 2 21 1 1 2-18 15-5 9-1 4 8 3 16 10 16 3 8 8 2 4-2 14-2 6-28 11-18 9-4-1-12-15-8-7-1-11-3-10-10-16-13-26 0-6 5-15 10-9 12-18zM1334 976l4 0-26 27-4 2-4-3-5-8 1-4 34-14zM1112 1078l10 1 6 5 49 62 5 8 1 4-2 2-5 2-8 0-3 2 3 26 6 20 10 10 6 12 4 3 10-5 6-2 6 1 4 4 1 9-1 4-9 4 7 8 1 4-9 12 8 24-1 4-4 8 3 8-1 2-10 4-3 4-2 10-8 8 0 2-20 22 0 2-10 10 0 2-50 52-12 14-2 6-221 0 16-20 52-56 36-42 90-118 13-28 6-2 4-4 10 1 6-1 11-8 1-4-2-18 1-14 3-10 6-14-9-24-9-14 0-2zM1354 1328l6 0 4 4 0 4-3 4-5 1-5-3-1-6 2-3 2-1zM1418 1333l8 1 6 6 4 8 1 4-2 4-7 8-10 4-4 3-4 11-18 30-6 4-14 3-2-3 0-4 5-18 17-26 14-15 7-15 5-5zM1336 1365l2 0 1 3 0 6-1 5-4 1-6-2-1-2 0-2 9-9z" fill="#ff8000" fill-rule="evenodd"/>
<path d="M1240 234l10-2 3 2-20 14-41 25-250 132-27 13-5-1-10-13-50-76 2-4 24-20 12-8 172-27 180-35zM558 264l3 0 11 4 3 2-1 2-6-2-10-6zM594 268l2 0 1 2-3 12-6 1-4-2-2-5 2-4 10-4zM650 380l14 0 9 4 0 2-5 3-14 3-4 0-4-3-2-5 2-3 4-1zM782 410l4 3 6 12 15 47 0 4-1 4-8 8-4 2-22-3-10-3-3-4-5-16 1-4 12-12 3-8 5-6 4-20 3-4zM804 508l6 1 2 5-2 7-4 5-2 0-2-2-5-12 1-3 6-1zM794 558l14-2 4 1 16 13 2 4 0 4-2 10-2 4-4 2-4 1-18-3-4-2-4-14-8-8-2-4 2-3 10-3zM714 579l4 0 4 2 2 3 0 4-2 2-4-1-5-7 1-3zM850 672l4-2 6 1 3 3 2 6-1 10-6 5-6 2-4-3-3-8 3-10 2-4zM896 701l12-1 10 3 4 2 2 5 0 6 0 8-2 4-4 1-4-1-14-7-2-3 0-8-3-6 1-3zM988 930l2-1 2 2 5 17 6 12 3 2 16 1 3 1 0 2-10 10-9 12-3 4 1 2 10 0 4 1 14 11 18 4 5 4 2 4-1 12-3 6-22 8-21 10-6-2-8-10-9-8-1-12-2-8-12-19-11-23 0-6 5-14 14-8 8-14zM1328 980l3 0-21 22-4 0-6-8 0-2 7-4 21-8zM1120 1085l4 0 6 6 24 31 22 24 5 8-1 4-4 2-14-3-6 1-2 2 8 11 2 10 0 9 6 20 3 6 6 4 3 4 3 8-1 8 6 12 2 1 4-4 4 1 10 5 5 5 0 2-3 4-13 6 0 2 9 8 4 12-1 6-19 20-110 132-2 4-202 0 16-20 52-56 35-40 99-130 9-8 7-2 3-8 13-3 12-7 4-4 6-32-2-2-6-2 0-6 4-6 4-1 6 1 2-1 1-3-3-6-8-10-7-10-5-12 0-3zM1212 1234l3 0 2 2 0 4-3 2-4-1-3-3 1-2 4-2zM1420 1337l5 1 5 6 1 4-2 6-5 7-11 7-5 12-7 8-11 19-6 3-6 0-1-6 3-10 10-15 18-20 8-18 4-4z" fill="#ff5500" fill-rule="evenodd"/>
<path d="M1238 236l8-1 2 1-15 10-33 20-286 150-4-1-8-10-51-77 3-4 21-18 13-8 172-27 178-35zM592 269l3 1 1 2-2 6-2 2-4 0-3-2 0-4 2-2 5-3zM648 382l14-1 6 3 0 2-16 5-4-2-2-3 0-2 2-2zM784 432l2-1 2 2 4 6 8 19 3 10-2 6-9 11-4 1-18-2-8-3-2-3-3-14 3-6 11-8 3-5 6-5 4-8zM804 512l2 0 2 2 1 4-3 4-3-2-2-4 1-4 2 0zM804 560l8 0 14 12 2 4 0 4-2 7-2 3-8 2-14-1-4-2-3-11-5-12 14-6zM854 674l6 1 2 3 1 4-1 5-2 3-6 3-4-3-2-6 3-8 3-2zM902 703l4-1 6 1 6 2 4 3 1 12-1 5-2 2-8-1-10-6-2-2 0-12 2-3zM990 943l4 7 4 12 6 3 12 1 2 2-8 11-8 8-4 3-10 2-1 2 1 4 6 4 14-5 8-1 6 4 10 9 18 4 4 3 1 4-2 10-3 4-42 16-4-1-15-15-1-14-3-8-11-17-10-21-1-6 5-14 16-6 6-5zM1008 1030l-1 4 1 1 2 0 1-3-1-2-2 0zM1152 1129l2-1 4 2 10 9 9 11 1 4 0 2-4 1-6-4-4-2-16 1-1-4 1-8 4-11zM1150 1171l4 0 4 3 2 6-2 8 0 4 6 9 6 17 9 8-3 14 4 22 9 10 3 6 11 6 2 4 1 6-11 18-115 138-3 6-198 0 15-18 52-56 36-42 92-119 18-15 10-4 2-6 10-3 25-13 11-9zM1200 1256l4 0 4 2 2 2 0 2-4 3-6 0-2-3 2-6zM1420 1343l2-1 2 1 2 5-2 5-6 5-2-2 4-13zM1390 1388l2-2 1 2-1 6-4 7-4 1 0-6 6-8z" fill="#ff2a00" fill-rule="evenodd"/>
<path d="M590 272l4 0-1 4-3 2-2-2 0-2 2-2zM648 383l8-1 6 2 0 2-10 3-4-2 0-4zM782 448l6 1 4 4 5 9 0 6-11 14-14 0-8-2-3-6-1-12 4-5 18-9zM804 564l4-1 4 1 12 10 1 6-3 6-10 3-10 0-3-1-3-16 8-8zM856 678l2 0 2 4-1 4-3 2-2 0-2-4 1-4 3-2zM906 705l8 1 6 3 1 9-1 7-2 1-4-1-10-5-1-2 0-8 1-3 2-2zM974 954l14-2 2 2 2 10 6 3 13 3 0 4-3 4-6 5-20 0-6 3-2-1-7-11-2-6 3-10 6-4zM1008 1000l8-1 5 3 11 10 12 2 6 2 2 2 0 4-2 8-4 3-20 7-12 3-2-1 4-8 0-6-4-5-4 0-7 5 0 10-1 2-4-2-6-6 0-20 18-12zM1160 1136l8 6 6 8-2 1-12-7-2-8 2 0zM1148 1186l4 8 9 10 8 22 1 18 3 20 3 3 9 5 4 12 9 4 1 2 0 2-9 2-12 13-61 55-18 18-8 6-18 18-8 6-18 18-8 6-22 22-137 0 103-116 85-110 6-7 22-17 4 0 8 6 4 1-3-9 1-4 20-10 18-4z" fill="#ff0000" fill-rule="evenodd"/>
<path d="M652 385l2 1-2-1zM780 456l5 2 3 6-5 12-2 2-5 1-8-1-4-2-2-8 1-6 5-3 12-3zM806 567l4-1 3 2 4 4 1 4-3 6-3 4-8 1-4-2-1-9 2-4 5-5zM908 708l6 0 4 2 2 6-2 7-4 0-7-3-1-2 0-6 2-4zM974 957l8 0 4 9 18 8-4 2-28-2-4-4 0-4 2-6 4-3zM1010 1002l4-1 4 2 14 13 10 0 6 2 1 4-2 6-3 2-18 7-4 0-2-11-6-8-4-1-10 2-2-3 3-6 9-8zM1128 1198l12-2 6 2 10 8 4 6 4 14 1 12-1 8 3 6 0 6-1 4-3 2-3 17-24 23-160 144-6 8-89 0 15-18 77-84 53-63 50-56 22-18 12 1 10 6 2 1 2 0-8-17-1-4 6-4 7-2zM1180 1274l0 1 0-1z" fill="#d40000" fill-rule="evenodd"/>
<path d="M770 462l5 0 3 2 0 6-2 4-6 1-3-1-2-2 0-4 1-4 4-2zM806 572l4-1 2 1 1 4-3 7-2 1-4 0-2-2 0-4 4-6zM910 711l2 0 4 1 1 4-1 3-4 1-2-2-1-4 1-3zM974 962l3 0 0 2-1 2-2 2-2-2 2-4zM1014 1005l4 2 14 13 12 0 1 2-1 4-4 2-12 2-5-8-11-14 2-3zM1132 1206l4-1 6 5 10 2 4 4 2 6 2 18-1 4-3 4-4-1-10-7-10-10-5-8-3-6 1-4 3-4 4-2zM1112 1229l8 0 7 3 16 16 12 14 2 4-1 2-116 109-8 6-22 22-8 6-22 22-8 6-13 13-2 4-74 0 53-60 62-66 114-101z" fill="#aa0000" fill-rule="evenodd"/>
<path d="M1132 1218l10 1 6 3 5 6 0 4-1 4-6 1-8-6-6-7-1-4 1-2z" fill="#800000" fill-rule="evenodd"/></g>
<polygon points="730.1,51.0 731.0,56.1 728.4,62.1 722.4,66.3 713.9,69.7 707.9,67.6 716.5,78.3 728.4,83.4 736.1,87.7 755.7,106.0 759.1,106.4 771.1,113.3 770.2,103.0 779.6,99.6 784.7,93.6 789.0,83.4 790.7,80.0 798.4,77.4 805.2,79.1 814.6,92.8 815.4,99.6 811.2,106.4 808.6,119.2 805.2,126.9 804.3,137.2 800.0,143.1 799.2,148.2 795.0,151.7 788.0,158.0 783.0,164.0 776.0,170.0 771.7,175.6 764.0,179.0 756.5,181.3 748.0,179.2 740.5,187.7 726.7,200.5 722.4,207.0 712.8,214.4 707.5,224.0 698.9,232.5 688.3,241.1 686.1,247.5 686.1,256.0 682.9,260.3 686.1,267.7 681.9,275.2 688.3,284.8 698.0,300.0 692.4,319.2 701.1,326.2 709.8,334.9 715.1,341.9 720.3,352.4 722.1,357.6 720.3,366.4 722.1,373.3 712.0,384.0 722.1,399.5 737.8,411.8 753.5,422.2 772.7,432.7 788.4,443.2 803.0,456.0 818.1,476.4 825.1,492.1 828.6,502.5 832.1,513.0 837.3,520.0 843.3,532.0 854.8,548.0 867.0,562.0 877.5,575.9 884.0,589.0 895.9,602.3 897.8,615.4 905.3,630.3 917.0,645.0 922.0,665.7 925.7,676.8 929.5,689.9 936.9,702.9 945.0,718.0 946.2,736.4 957.4,755.0 966.7,773.7 977.9,792.3 995.0,812.0 1002.1,829.5 1017.0,844.4 1024.4,859.3 1027.6,871.2 1029.5,884.2 1040.0,896.0 1057.4,915.9 1059.3,927.0 1066.7,934.5 1074.2,947.5 1083.5,964.3 1089.0,979.2 1098.4,990.4 1109.5,1009.0 1104.0,1016.4 1112.0,1026.0 1100.2,1038.8 1094.6,1046.2 1102.1,1050.0 1102.1,1061.0 1109.5,1066.7 1117.0,1072.3 1115.1,1079.7 1120.7,1089.0 1128.2,1098.4 1133.7,1109.5 1150.0,1117.0 1160.0,1126.3 1166.7,1135.6 1178.5,1147.5 1190.4,1155.4 1196.0,1165.0 1212.2,1179.2 1230.0,1187.1 1237.9,1193.0 1249.8,1197.0 1259.7,1204.9 1277.5,1212.8 1289.4,1218.7 1301.2,1230.6 1317.1,1238.5 1335.0,1245.0 1351.0,1250.6 1357.9,1255.9 1375.4,1264.6 1387.6,1268.1 1399.8,1275.1 1413.8,1278.6 1427.8,1285.5 1438.2,1292.5 1452.2,1304.7 1464.4,1310.0 1478.4,1317.0 1495.9,1327.4 1504.6,1332.7 1513.3,1344.9 1526.0,1356.0 1537.8,1372.8 1548.2,1379.8 1557.0,1388.5 1566.9,1396.1 1580.3,1406.8 1596.4,1417.5 1603.1,1426.9 1600.4,1440.2 1599.1,1455.0 1604.4,1476.4 1605.8,1487.1 1604.4,1497.8 1609.8,1508.5 1611.1,1521.9 1615.1,1530.0 1617.8,1556.7 1616.5,1580.8 1613.1,1587.5 1614.5,1600.0 1650.0,1600.0 1650.0,45.0 730.0,45.0" fill="#b3b3b3"/>
<polygon points="771.0,115.0 790.0,108.0 802.0,114.0 792.0,121.0 785.0,130.0 783.0,135.0 775.0,139.0 767.0,140.6 760.0,131.0 764.0,129.0 770.0,135.0 770.0,122.0" fill="#b3b3b3" stroke="#000" stroke-width="1.6" stroke-linejoin="round"/>
<polygon points="787.0,96.0 792.0,86.0 797.0,80.0 800.0,82.0 797.0,90.0 795.0,101.0 789.0,102.0" fill="#b3b3b3" stroke="#000" stroke-width="1.6" stroke-linejoin="round"/>
<polygon points="802.0,80.0 805.0,84.0 808.0,95.0 806.0,104.0 803.0,107.0 801.0,100.0 803.0,90.0" fill="#b3b3b3" stroke="#000" stroke-width="1.6" stroke-linejoin="round"/>
<polyline points="730.1,51.0 731.0,56.1 728.4,62.1 722.4,66.3 713.9,69.7 707.9,67.6 716.5,78.3 728.4,83.4 736.1,87.7 755.7,106.0 759.1,106.4 771.1,113.3 770.2,103.0 779.6,99.6 784.7,93.6 789.0,83.4 790.7,80.0 798.4,77.4 805.2,79.1 814.6,92.8 815.4,99.6 811.2,106.4 808.6,119.2 805.2,126.9 804.3,137.2 800.0,143.1 799.2,148.2 795.0,151.7 788.0,158.0 783.0,164.0 776.0,170.0 771.7,175.6 764.0,179.0 756.5,181.3 748.0,179.2 740.5,187.7 726.7,200.5 722.4,207.0 712.8,214.4 707.5,224.0 698.9,232.5 688.3,241.1 686.1,247.5 686.1,256.0 682.9,260.3 686.1,267.7 681.9,275.2 688.3,284.8 698.0,300.0 692.4,319.2 701.1,326.2 709.8,334.9 715.1,341.9 720.3,352.4 722.1,357.6 720.3,366.4 722.1,373.3 712.0,384.0 722.1,399.5 737.8,411.8 753.5,422.2 772.7,432.7 788.4,443.2 803.0,456.0 818.1,476.4 825.1,492.1 828.6,502.5 832.1,513.0 837.3,520.0 843.3,532.0 854.8,548.0 867.0,562.0 877.5,575.9 884.0,589.0 895.9,602.3 897.8,615.4 905.3,630.3 917.0,645.0 922.0,665.7 925.7,676.8 929.5,689.9 936.9,702.9 945.0,718.0 946.2,736.4 957.4,755.0 966.7,773.7 977.9,792.3 995.0,812.0 1002.1,829.5 1017.0,844.4 1024.4,859.3 1027.6,871.2 1029.5,884.2 1040.0,896.0 1057.4,915.9 1059.3,927.0 1066.7,934.5 1074.2,947.5 1083.5,964.3 1089.0,979.2 1098.4,990.4 1109.5,1009.0 1104.0,1016.4 1112.0,1026.0 1100.2,1038.8 1094.6,1046.2 1102.1,1050.0 1102.1,1061.0 1109.5,1066.7 1117.0,1072.3 1115.1,1079.7 1120.7,1089.0 1128.2,1098.4 1133.7,1109.5 1150.0,1117.0 1160.0,1126.3 1166.7,1135.6 1178.5,1147.5 1190.4,1155.4 1196.0,1165.0 1212.2,1179.2 1230.0,1187.1 1237.9,1193.0 1249.8,1197.0 1259.7,1204.9 1277.5,1212.8 1289.4,1218.7 1301.2,1230.6 1317.1,1238.5 1335.0,1245.0 1351.0,1250.6 1357.9,1255.9 1375.4,1264.6 1387.6,1268.1 1399.8,1275.1 1413.8,1278.6 1427.8,1285.5 1438.2,1292.5 1452.2,1304.7 1464.4,1310.0 1478.4,1317.0 1495.9,1327.4 1504.6,1332.7 1513.3,1344.9 1526.0,1356.0 1537.8,1372.8 1548.2,1379.8 1557.0,1388.5 1566.9,1396.1 1580.3,1406.8 1596.4,1417.5 1603.1,1426.9 1600.4,1440.2 1599.1,1455.0 1604.4,1476.4 1605.8,1487.1 1604.4,1497.8 1609.8,1508.5 1611.1,1521.9 1615.1,1530.0 1617.8,1556.7 1616.5,1580.8 1613.1,1587.5 1614.5,1600.0" fill="none" stroke="#000" stroke-width="1.8" stroke-linejoin="round"/>
<polyline points="771.7,175.6 776.1,193.1 779.4,210.6 768.4,219.3 755.3,220.4 752.0,224.8 754.2,234.6 766.2,234.6 756.4,249.9 755.3,256.5 764.1,258.7 780.5,243.4 796.9,251.0 807.8,258.7 823.1,255.4 835.1,263.0 840.6,282.7 853.7,298.0 873.4,301.3 882.1,287.1 888.7,276.2 897.4,272.9 907.3,260.9 908.4,245.6 911.7,228.1 914.9,219.3 927.0,200.7 931.3,190.9 943.4,166.8 952.1,153.7 976.2,134.0 1002.4,124.2 1072.4,101.2 1098.6,83.7 1131.4,51.0" fill="none" stroke="#000" stroke-width="1.8" stroke-linejoin="round"/>
<polyline points="1368.0,51.0 1371.0,62.7 1365.0,71.8 1371.0,82.4 1380.1,83.9 1384.6,93.0 1398.3,88.4 1405.8,91.4 1408.8,85.4 1428.5,86.9 1431.5,93.0 1449.7,88.4 1458.8,79.3 1467.9,80.8 1475.4,68.7 1483.0,62.7 1489.0,67.2 1501.1,70.3 1514.8,83.9 1531.4,80.8 1535.9,73.3 1546.5,70.3 1555.6,71.8 1572.2,79.3 1576.8,88.4 1598.0,94.5 1607.0,99.0 1619.1,108.1 1625.2,117.2 1569.2,201.9 1587.4,207.9 1599.5,201.9 1611.6,207.9 1614.6,215.5 1632.7,236.7 1643.3,182.2" fill="none" stroke="#000" stroke-width="1.8" stroke-linejoin="round"/>
<polyline points="1632.7,236.7 1628.2,248.8 1613.1,248.8 1602.5,239.7 1601.0,232.1 1591.9,229.1 1576.8,232.1 1570.7,229.1 1563.2,232.1 1551.1,248.8 1537.4,250.3 1525.3,250.3 1504.2,256.3 1495.1,262.4 1470.9,259.4 1466.3,268.4 1458.8,271.5 1442.1,282.1 1433.1,283.6 1430.0,292.6 1422.5,298.7 1414.9,300.2 1408.8,306.3 1390.7,307.8 1386.2,313.8 1387.7,322.9 1383.1,339.5 1381.6,353.2 1371.0,369.8 1366.5,375.9 1362.0,389.5 1366.5,418.2 1362.0,427.3 1349.8,431.8 1336.2,442.4 1328.7,447.0 1315.1,460.6 1310.5,478.7 1319.6,493.9 1306.0,498.4 1296.9,498.4 1298.4,509.0 1295.4,515.0 1300.3,520.0 1308.7,529.8 1319.8,535.4 1319.8,542.3 1312.8,543.7 1312.8,549.3 1324.0,554.9 1329.6,573.1 1333.8,584.2 1349.2,592.6 1349.2,603.8 1356.1,610.8 1363.1,612.2 1371.5,628.9 1378.5,631.7 1381.3,642.9 1378.5,654.1 1371.5,658.3 1361.7,670.8 1400.8,670.8 1417.6,676.4 1434.4,677.8 1437.2,687.6 1439.9,693.2 1439.9,700.2 1448.3,704.4 1448.3,719.7 1515.4,719.7 1529.3,714.1 1533.5,707.1 1546.1,703.0 1554.5,691.8 1562.8,686.2 1579.6,672.2 1586.6,673.6 1579.6,684.8 1583.8,698.8 1576.8,705.8 1576.3,803.5 1585.2,799.3 1599.2,809.1 1613.1,806.3 1634.1,796.5 1645.0,797.9" fill="none" stroke="#000" stroke-width="1.8" stroke-linejoin="round"/>
<polyline points="1597.7,1416.1 1602.0,1415.0 1613.8,1415.5 1632.5,1408.8 1645.0,1397.0" fill="none" stroke="#000" stroke-width="1.8" stroke-linejoin="round"/>
<path d="M709 177L722 175M667 188L671 175M722 188L729 183M653 202L671 187M670 204L680 195M693 203L705 200M704 205L712 203M721 197L733 196M653 222L659 222M683 224L689 219M698 221L706 213M607 240L615 232M654 229L659 238M653 241L648 251M678 254L685 248M621 264L633 260M654 262L651 277M567 285L588 287M629 273L643 286M661 271L662 283M562 296L571 303M621 288L626 302M694 299L683 304M573 310L577 320M598 300L604 315M614 304L620 323M650 309L657 330M602 317L602 338M625 314L633 342M656 314L673 335M580 337L585 345M624 334L630 349M647 347L661 348M703 338L711 334M614 353L628 351M659 364L671 349M670 357L684 356M691 364L698 354M587 372L597 364M609 369L614 364M629 372L634 367M646 375L648 363M599 390L604 380M644 392L628 378M662 396L636 387M680 394L651 380M693 396L688 390M614 406L617 394M634 407L629 399M658 414L649 402M675 407L668 400M711 408L699 396M608 428L591 411M625 429L618 418M642 427L637 415M665 417L656 406M691 420L682 411M719 430L702 405M731 430L716 408M746 422L734 400M652 440L648 425M692 441L682 423M708 444L693 424M741 435L722 412M626 453L612 440M640 451L631 430M681 453L676 442M782 460L771 426M800 464L792 424M676 468L655 459M702 474L687 456M727 469L717 452M650 487L636 479M663 484L641 470M678 486L658 467M695 485L669 469M714 494L712 465M734 486L728 478M809 493L788 470M820 492L818 462M661 500L633 485M686 500L677 481M716 499L714 473M743 504L735 495M762 505L749 484M776 507L762 495M801 502L793 486M806 501L801 474M687 514L670 493M692 520L680 516M716 517L710 493M732 519L716 506M756 521L743 496M786 517L772 496M826 519L810 500M675 534L653 515M689 535L678 520M721 532L699 513M746 537L730 522M767 535L748 521M792 535L775 510M820 537L809 525M828 532L813 519M713 554L698 540M737 552L721 545M758 543L722 526M769 548L747 529M820 554L804 541M841 546L829 540M728 560L701 545M750 562L722 559M755 563L743 550M775 565L757 552M796 570L764 547M833 568L815 547M847 568L837 558M865 566L861 557M821 577L794 546M837 580L831 563M733 598L711 579M761 596L742 579M775 589L757 573M797 600L784 584M821 595L798 567M854 602L850 588M767 615L745 602M793 614L782 600M806 609L792 584M816 613L811 601M853 608L849 597M873 611L872 593M728 631L708 612M778 620L766 612M792 623L781 611M846 624L837 611M867 626L865 608M884 626L886 613M901 623L899 616M800 650L793 627M823 647L820 624M842 648L836 635M847 639L857 622M874 639L871 617M911 645L908 637M807 655L801 630M835 652L833 640M843 660L837 640M871 661L851 641M891 654L880 642M902 655L894 644M916 656L905 643M824 670L813 644M842 675L832 649M859 682L845 651M876 676L869 657M895 668L890 659M906 678L899 664M832 681L811 672M848 695L836 671M872 695L856 675M884 690L873 674M898 685L897 673M920 686L906 670M841 707L826 691M857 706L862 669M879 703L868 676M899 704L889 674M909 702L900 679M932 708L914 684M847 721L844 699M872 728L866 704M887 717L872 700M901 715L878 696M918 708L904 747M946 723L935 713M864 743L840 717M884 726L871 734M888 730L886 741M914 723L914 755M930 727L918 746M950 733L931 727M851 756L845 740M860 755L857 724M884 744L871 735M900 741L890 747M929 746L915 742M937 747L932 742M956 754L940 742M862 766L851 748M879 772L874 762M907 770L898 762M928 766L923 761M950 763L944 758M887 776L885 768M902 787L901 775M913 782L913 769M963 787L957 774M865 801L852 787M890 803L880 784M918 802L913 791M932 802L926 790M950 794L946 783M893 810L875 793M900 811L897 798M914 808L913 793M935 816L935 806M950 813L950 801M970 806L962 797M899 834L890 818M912 831L907 820M924 828L920 815M951 826L945 811M967 825L965 816M979 827L975 817M997 833L998 823M919 841L905 822M939 849L934 839M959 848L959 842M969 838L967 832M990 848L987 836M915 857L911 840M927 857L922 839M951 858L945 845M962 864L960 858M978 861L977 856M999 858L1001 845M1017 857L1013 847M921 872L910 847M942 874L937 866M960 875L952 868M976 877L968 868M990 878L988 868M1016 881L1012 871M1027 874L1025 865M888 890L883 876M912 891L891 870M931 887L924 875M952 894L945 881M964 895L955 885M979 893L975 882M1001 889L1000 883M1023 891L1018 883M1034 896L1030 887M920 906L914 893M937 913L930 895M956 904L948 884M979 913L980 897M990 906L987 894M1004 901L1004 895M1031 908L1028 901M914 924L908 911M932 927L925 908M947 926L940 913M991 929L978 901M1005 925L1004 907M1013 924L1009 916M1040 922L1036 914M1058 922L1055 912M934 940L926 926M960 933L953 920M982 947L968 920M991 948L983 917M1014 942L1005 920M1033 940L1028 927M1044 932L1042 925M951 955L936 943M973 962L952 930M981 961L960 932M1006 950L1002 925M1021 950L1016 927M1040 949L1030 936M1057 954L1050 937M1069 949L1067 939M950 968L947 948M981 976L965 936M1001 973L985 935M1009 976L1004 937M1052 969L1048 950M1068 975L1065 964M965 988L945 970M989 985L982 947M1005 986L988 951M1020 983L1014 952M1038 990L1039 976M1056 981L1054 963M1067 991L1064 978M979 1005L960 981M995 1011L980 974M1017 1006L985 984M1026 1004L1008 974M1054 1005L1040 981M1062 1006L1060 991M1077 1001L1074 993M1103 1004L1098 999M995 1019L965 995M1009 1020L985 990M1047 1023L1012 1004M1058 1019L1029 998M1072 1013L1069 997M1095 1010L1091 1004M980 1027L973 1009M1000 1032L988 997M1013 1036L996 1011M1033 1034L994 1018M1051 1035L1021 1009M1065 1033L1058 1007M1084 1026L1076 1016M1095 1035L1092 1022M1011 1047L993 1023M1022 1053L1001 1027M1039 1044L1010 1017M1057 1051L1037 1032M1078 1048L1069 1028M1097 1041L1092 1031M1008 1059L992 1039M1024 1061L1011 1034M1052 1065L1037 1047M1064 1068L1058 1058M1074 1068L1081 1041M1099 1061L1102 1042M1023 1076L1014 1059M1038 1085L1026 1065M1053 1085L1048 1066M1069 1077L1066 1056M1092 1076L1098 1052M1116 1079L1097 1051M1032 1101L1019 1084M1045 1092L1043 1066M1065 1097L1062 1072M1085 1095L1080 1080M1103 1099L1097 1086M1041 1114L1042 1088M1056 1107L1051 1089M1075 1110L1070 1098M1092 1108L1087 1095M1111 1104L1103 1088M1132 1116L1114 1086M1044 1127L1052 1100M1062 1128L1053 1108M1108 1128L1098 1112M1124 1120L1099 1105M1138 1126L1118 1108M1152 1133L1135 1104M1074 1148L1071 1125M1094 1142L1086 1125M1116 1137L1107 1119M1129 1149L1110 1123M1147 1138L1123 1115M1072 1152L1057 1138M1082 1158L1079 1148M1105 1155L1091 1134M1127 1163L1112 1141M1144 1153L1116 1130M1156 1162L1148 1134M1106 1175L1096 1161M1129 1180L1110 1155M1146 1172L1128 1147M1175 1175L1171 1151M1104 1184L1085 1161M1123 1193L1105 1167M1156 1194L1144 1164M1185 1192L1177 1176M1129 1201L1113 1169M1154 1203L1138 1177M1173 1210L1155 1182M1179 1204L1169 1180M1225 1207L1216 1197M1236 1203L1227 1193M1259 1207L1251 1195M1160 1229L1134 1196M1172 1223L1151 1195M1218 1219L1203 1211M1227 1225L1207 1209M1277 1215L1265 1204M1142 1236L1129 1199M1181 1240L1168 1207M1210 1233L1187 1207M1220 1231L1201 1216M1237 1231L1222 1214M1260 1231L1251 1222M1276 1234L1262 1221M1288 1232L1282 1209M1309 1238L1296 1229M1160 1259L1141 1228M1176 1257L1155 1225M1199 1255L1178 1230M1208 1255L1189 1232M1244 1249L1236 1228M1267 1245L1255 1233M1286 1254L1270 1243M1309 1247L1287 1233M1318 1246L1303 1239M1181 1272L1170 1234M1207 1274L1190 1239M1218 1260L1194 1242M1237 1273L1219 1253M1262 1266L1250 1261M1275 1270L1265 1259M1299 1266L1280 1266M1313 1256L1297 1261M1332 1258L1306 1260M1354 1265L1334 1266M1209 1278L1194 1256M1241 1277L1232 1262M1265 1277L1258 1270M1278 1283L1268 1279M1305 1279L1297 1276M1325 1278L1306 1278M1339 1273L1325 1277M1373 1271L1355 1269M1388 1271L1362 1278M1408 1277L1392 1281M1237 1292L1220 1286M1253 1295L1235 1284M1297 1298L1288 1290M1310 1301L1293 1288M1326 1286L1306 1290M1341 1295L1327 1295M1367 1291L1353 1297M1386 1295L1371 1297M1403 1288L1382 1292M1433 1287L1412 1285M1231 1314L1210 1297M1251 1315L1235 1306M1276 1310L1270 1306M1299 1311L1282 1301M1341 1308L1321 1301M1370 1309L1356 1309M1397 1312L1381 1316M1409 1309L1387 1297M1430 1310L1413 1297M1443 1315L1424 1296M1458 1310L1444 1305M1272 1325L1261 1311M1297 1332L1279 1312M1308 1330L1288 1313M1333 1324L1321 1319M1369 1329L1345 1319M1384 1332L1356 1322M1397 1330L1379 1320M1431 1329L1415 1317M1455 1330L1444 1313M1487 1326L1478 1317M1270 1349L1259 1333M1302 1346L1274 1325M1316 1345L1299 1328M1343 1347L1321 1335M1363 1340L1330 1329M1372 1340L1346 1331M1404 1342L1385 1323M1428 1344L1395 1341M1458 1341L1445 1332M1479 1343L1466 1333M1278 1354L1265 1340M1295 1362L1281 1352M1313 1353L1307 1340M1329 1360L1317 1337M1346 1359L1323 1341M1362 1352L1340 1341M1381 1352L1356 1343M1396 1365L1379 1345M1421 1353L1402 1337M1443 1362L1423 1347M1468 1361L1458 1340M1486 1357L1481 1349M1508 1353L1503 1346M1519 1359L1518 1354M1287 1370L1276 1351M1318 1375L1312 1350M1346 1379L1322 1363M1355 1375L1343 1357M1380 1371L1364 1356M1413 1378L1388 1351M1427 1382L1405 1357M1449 1380L1435 1353M1480 1373L1477 1357M1489 1378L1495 1368M1306 1387L1290 1374M1321 1390L1314 1376M1349 1384L1325 1370M1362 1398L1352 1373M1385 1392L1364 1368M1401 1399L1387 1372M1434 1398L1421 1374M1458 1389L1450 1360M1467 1387L1468 1373M1501 1387L1510 1378M1515 1384L1522 1379M1533 1385L1535 1377M1334 1406L1326 1383M1357 1413L1351 1387M1367 1411L1360 1383M1393 1415L1385 1384M1404 1405L1389 1386M1418 1411L1418 1385M1445 1413L1437 1390M1470 1409L1449 1396M1478 1405L1480 1394M1495 1405L1503 1399M1514 1405L1516 1395M1554 1399L1554 1393M1365 1421L1359 1398M1378 1425L1368 1390M1419 1419L1416 1399M1436 1418L1413 1401M1454 1426L1448 1415M1469 1420L1458 1421M1487 1422L1480 1419M1389 1439L1381 1412M1428 1435L1416 1406M1439 1442L1435 1425" stroke="#000" stroke-width="2.4" fill="none"/><path d="M732 173L723 178L722 171ZM674 164L674 176L667 173ZM733 180L731 186L726 180ZM679 180L674 190L669 184ZM688 188L683 198L678 192ZM715 197L707 203L704 196ZM718 201L713 206L711 199ZM742 196L734 200L733 192ZM664 222L659 226L660 218ZM693 216L691 222L687 216ZM712 206L709 215L703 210ZM621 226L618 235L613 229ZM663 245L656 240L663 236ZM644 258L645 249L651 253ZM691 243L688 251L683 245ZM642 256L635 263L632 256ZM648 287L647 276L655 278ZM598 288L588 291L588 283ZM651 294L640 289L646 284ZM663 292L658 284L666 283ZM578 307L569 306L573 299ZM629 312L622 304L629 301ZM675 309L681 301L685 308ZM579 327L573 321L580 319ZM608 324L601 316L608 313ZM623 333L616 324L624 321ZM661 340L654 331L661 328ZM603 349L599 338L606 338ZM636 352L629 343L636 341ZM680 343L670 338L676 333ZM589 350L582 347L588 342ZM634 358L626 350L633 347ZM671 348L661 352L661 344ZM717 331L713 337L709 331ZM638 350L628 355L627 347ZM678 341L674 351L668 346ZM694 355L684 360L684 352ZM703 348L701 357L694 352ZM604 359L599 368L595 361ZM617 361L617 367L611 361ZM638 364L636 370L631 364ZM649 354L652 364L644 363ZM608 374L608 382L601 379ZM620 371L631 375L625 381ZM626 384L638 384L635 391ZM641 375L652 376L649 383ZM684 386L691 387L685 392ZM619 386L620 395L613 393ZM625 392L632 397L626 400ZM642 394L652 400L646 405ZM662 395L670 397L665 403ZM692 389L702 394L697 399ZM584 404L594 408L588 414ZM613 411L621 416L614 420ZM634 406L641 413L633 416ZM650 398L659 404L653 408ZM675 404L685 408L679 413ZM696 396L705 402L699 407ZM710 399L719 406L713 410ZM730 390L738 398L731 402ZM646 414L652 424L645 426ZM677 414L686 421L679 425ZM686 415L696 421L689 426ZM715 404L725 410L719 415ZM605 432L615 437L610 443ZM627 420L634 428L627 431ZM673 434L680 440L673 444ZM768 416L775 425L768 428ZM790 414L796 424L788 425ZM646 455L657 455L654 462ZM680 448L690 453L684 458ZM712 442L721 450L714 453ZM627 474L638 476L634 482ZM632 465L643 467L639 474ZM650 460L660 464L655 470ZM660 463L671 465L667 472ZM711 454L716 465L708 465ZM723 473L731 476L725 481ZM781 463L791 468L785 473ZM817 451L821 461L814 462ZM624 480L635 482L631 489ZM673 472L681 480L674 483ZM713 463L718 473L710 473ZM730 489L738 493L732 498ZM743 475L752 482L746 486ZM754 488L765 492L759 498ZM788 476L796 484L789 488ZM798 464L804 473L797 475ZM663 485L673 491L667 496ZM671 513L681 512L679 520ZM708 483L714 493L707 494ZM708 499L718 503L713 509ZM739 487L747 494L740 498ZM766 487L775 494L769 498ZM803 492L813 497L807 502ZM645 508L655 512L650 517ZM672 511L682 518L675 522ZM691 506L702 510L697 515ZM722 514L733 519L727 524ZM739 515L750 518L745 525ZM769 501L778 508L772 512ZM802 517L812 522L806 528ZM806 512L816 516L811 522ZM690 533L701 537L696 543ZM711 540L723 541L719 548ZM712 522L724 523L720 530ZM739 522L749 526L744 532ZM796 534L807 538L802 544ZM821 536L831 537L827 544ZM692 540L703 541L699 548ZM711 557L722 555L721 563ZM735 542L745 547L740 552ZM749 546L760 549L755 556ZM755 541L766 544L761 550ZM808 539L818 544L812 550ZM830 551L840 555L835 561ZM859 550L865 555L858 558ZM786 539L796 544L791 549ZM828 553L835 562L828 565ZM703 572L714 576L708 582ZM734 571L744 576L739 581ZM749 566L760 570L754 576ZM778 576L787 582L781 586ZM792 558L801 564L795 569ZM846 578L853 586L846 589ZM735 596L747 598L743 605ZM775 592L785 598L779 603ZM787 575L796 582L789 586ZM808 592L815 599L807 602ZM846 589L852 596L845 598ZM872 582L876 593L868 593ZM701 605L711 610L706 615ZM757 607L768 609L764 616ZM773 604L783 608L778 614ZM830 603L840 609L833 613ZM863 598L869 608L861 609ZM888 603L890 613L882 612ZM897 610L902 615L895 617ZM790 617L797 626L790 629ZM819 613L824 623L816 624ZM832 626L840 634L833 637ZM862 612L860 624L853 620ZM870 607L875 617L867 618ZM905 631L911 636L904 638ZM798 620L805 629L797 631ZM831 631L837 639L829 641ZM834 630L840 639L833 641ZM844 634L854 639L849 644ZM873 634L883 639L877 645ZM887 636L897 642L890 646ZM898 636L908 641L902 646ZM809 634L817 642L810 645ZM829 639L836 648L829 650ZM841 642L849 650L842 653ZM865 647L872 656L865 658ZM887 653L894 658L887 661ZM895 654L903 662L896 665ZM802 668L813 668L810 675ZM831 662L839 670L832 673ZM850 667L859 673L853 677ZM868 665L877 671L870 676ZM896 664L900 672L893 673ZM899 662L909 668L903 673ZM819 683L829 688L823 693ZM863 659L866 669L858 668ZM864 666L872 674L864 677ZM886 664L893 672L885 675ZM896 670L903 678L896 681ZM908 676L917 682L911 686ZM843 688L848 698L841 699ZM863 694L869 703L862 705ZM865 692L875 698L869 703ZM869 690L880 693L875 699ZM900 757L900 746L907 748ZM927 707L937 710L932 716ZM833 709L843 715L837 720ZM862 739L869 730L873 737ZM885 749L882 740L890 741ZM914 766L910 755L918 755ZM913 755L915 744L921 748ZM921 724L932 723L930 731ZM841 731L848 739L841 742ZM856 714L861 724L853 725ZM862 729L873 732L869 738ZM882 751L888 743L892 750ZM905 739L916 739L914 746ZM927 739L934 739L929 746ZM932 735L943 739L938 745ZM845 739L854 746L847 750ZM871 755L878 760L871 764ZM892 755L901 759L896 764ZM919 758L925 759L920 764ZM939 755L946 755L941 761ZM884 762L889 767L881 769ZM900 767L905 775L897 775ZM913 761L917 769L910 769ZM953 765L961 772L954 776ZM845 779L855 784L849 789ZM875 774L883 782L876 786ZM910 783L917 790L909 793ZM922 782L930 789L923 792ZM943 774L950 782L942 784ZM867 785L878 790L872 796ZM895 788L901 797L893 799ZM913 783L917 793L909 793ZM934 799L938 806L931 807ZM951 792L954 801L946 801ZM957 791L965 795L960 800ZM885 808L893 816L886 820ZM902 812L910 818L903 822ZM917 805L924 814L916 816ZM942 801L949 809L942 812ZM964 809L969 815L961 817ZM972 810L979 816L972 819ZM999 816L1002 824L994 823ZM899 814L908 820L902 825ZM931 832L938 837L931 841ZM960 838L963 843L955 842ZM966 828L971 831L964 833ZM985 827L991 835L983 837ZM909 830L915 839L907 841ZM919 829L925 838L918 840ZM940 836L948 843L941 847ZM958 853L964 856L956 859ZM976 852L981 855L973 856ZM1002 835L1005 845L997 844ZM1011 839L1017 846L1010 848ZM907 837L914 846L907 848ZM933 861L940 864L934 868ZM946 863L955 865L949 871ZM963 861L971 865L965 870ZM986 861L991 868L984 869ZM1009 864L1016 869L1009 872ZM1023 858L1029 864L1021 866ZM880 867L887 875L880 878ZM884 862L894 867L888 873ZM919 867L927 873L920 877ZM940 871L949 879L942 882ZM949 877L958 882L952 887ZM972 874L979 881L971 884ZM999 879L1004 882L996 884ZM1014 877L1021 881L1014 885ZM1028 880L1034 886L1027 888ZM909 884L917 891L910 895ZM926 886L934 894L927 897ZM944 874L952 882L944 885ZM980 886L984 897L976 896ZM985 885L991 893L983 895ZM1003 891L1007 894L1000 895ZM1026 896L1032 899L1024 902ZM903 902L911 910L904 913ZM921 898L928 907L921 910ZM936 904L944 911L937 915ZM973 892L981 900L974 903ZM1003 897L1008 907L1000 908ZM1006 910L1013 914L1006 918ZM1034 908L1040 912L1033 916ZM1054 905L1059 911L1051 913ZM921 917L930 924L923 928ZM949 911L957 918L950 922ZM963 910L971 918L964 921ZM981 907L987 916L979 918ZM1001 910L1009 918L1002 921ZM1024 918L1031 926L1024 929ZM1040 919L1045 923L1038 926ZM927 936L938 940L933 946ZM946 921L955 928L949 932ZM954 924L963 930L957 935ZM1000 914L1006 924L998 925ZM1014 917L1020 926L1012 928ZM1023 928L1033 933L1027 938ZM1046 928L1054 936L1047 939ZM1065 931L1071 938L1063 939ZM946 938L951 948L943 949ZM961 926L968 935L961 938ZM980 926L988 934L981 937ZM1002 927L1007 936L1000 938ZM1046 940L1052 949L1044 951ZM1063 957L1069 963L1061 965ZM938 963L948 967L943 973ZM980 937L986 946L978 948ZM983 942L991 950L984 953ZM1012 941L1018 951L1010 952ZM1040 965L1043 976L1035 975ZM1053 953L1058 963L1050 963ZM1062 969L1068 978L1060 979ZM954 973L964 978L957 983ZM976 964L984 972L976 975ZM976 978L987 981L983 987ZM1003 965L1012 972L1005 976ZM1035 972L1044 979L1037 983ZM1058 981L1063 991L1056 992ZM1073 987L1078 992L1071 994ZM1094 996L1101 996L1095 1002ZM957 988L968 992L963 998ZM978 982L988 988L982 993ZM1003 999L1014 1000L1011 1007ZM1020 992L1031 995L1027 1001ZM1067 987L1073 996L1065 998ZM1088 1000L1094 1002L1088 1006ZM969 999L976 1008L969 1010ZM984 987L992 996L984 999ZM990 1002L999 1009L993 1013ZM985 1014L996 1014L993 1022ZM1013 1002L1023 1006L1018 1012ZM1055 997L1062 1006L1054 1009ZM1071 1008L1080 1013L1073 1018ZM1090 1013L1096 1021L1088 1023ZM987 1015L996 1021L990 1026ZM994 1019L1004 1025L998 1030ZM1002 1010L1013 1014L1007 1020ZM1029 1024L1040 1029L1034 1035ZM1065 1018L1073 1026L1066 1029ZM1088 1024L1096 1029L1089 1033ZM985 1031L995 1036L989 1041ZM1006 1024L1014 1032L1007 1036ZM1030 1039L1039 1045L1034 1050ZM1053 1051L1061 1056L1054 1060ZM1084 1030L1085 1042L1077 1040ZM1103 1032L1106 1043L1098 1042ZM1009 1050L1018 1057L1011 1061ZM1021 1056L1029 1063L1023 1067ZM1046 1056L1052 1065L1045 1067ZM1064 1046L1069 1055L1062 1057ZM1101 1041L1102 1053L1094 1051ZM1091 1042L1100 1049L1094 1053ZM1013 1075L1022 1081L1016 1086ZM1042 1056L1046 1066L1039 1067ZM1061 1061L1066 1071L1058 1072ZM1076 1070L1083 1078L1076 1081ZM1093 1077L1101 1085L1094 1088ZM1043 1077L1046 1088L1039 1088ZM1048 1079L1055 1088L1047 1090ZM1066 1089L1074 1096L1066 1099ZM1084 1085L1091 1094L1084 1096ZM1099 1079L1107 1087L1100 1090ZM1108 1076L1117 1084L1110 1087ZM1055 1090L1056 1101L1048 1099ZM1049 1098L1057 1106L1050 1109ZM1092 1103L1101 1110L1095 1114ZM1090 1099L1101 1101L1097 1108ZM1110 1101L1120 1105L1115 1111ZM1129 1095L1138 1102L1131 1106ZM1070 1114L1075 1124L1067 1125ZM1082 1116L1090 1124L1083 1127ZM1102 1110L1110 1117L1103 1121ZM1103 1115L1113 1121L1106 1126ZM1115 1107L1125 1112L1120 1117ZM1049 1131L1060 1136L1054 1141ZM1077 1140L1083 1146L1075 1149ZM1086 1125L1095 1132L1088 1136ZM1107 1132L1116 1139L1109 1143ZM1108 1123L1119 1127L1114 1133ZM1145 1124L1152 1133L1144 1135ZM1090 1152L1099 1158L1093 1163ZM1103 1147L1113 1153L1107 1158ZM1122 1139L1131 1145L1125 1150ZM1169 1141L1175 1151L1167 1152ZM1079 1153L1088 1159L1082 1164ZM1099 1158L1109 1164L1102 1169ZM1140 1155L1148 1163L1140 1166ZM1173 1167L1181 1174L1174 1178ZM1109 1160L1117 1167L1110 1171ZM1132 1168L1141 1175L1134 1179ZM1149 1173L1158 1180L1151 1184ZM1165 1170L1172 1179L1165 1182ZM1209 1190L1219 1194L1213 1200ZM1220 1185L1230 1190L1224 1195ZM1246 1187L1255 1193L1248 1197ZM1128 1188L1137 1194L1131 1198ZM1144 1187L1154 1193L1148 1197ZM1193 1205L1204 1207L1201 1214ZM1199 1202L1209 1206L1205 1212ZM1257 1197L1267 1201L1262 1207ZM1125 1189L1132 1197L1125 1200ZM1165 1197L1172 1205L1165 1208ZM1180 1200L1190 1205L1184 1210ZM1192 1210L1203 1213L1198 1219ZM1215 1206L1225 1211L1219 1216ZM1244 1216L1254 1219L1248 1225ZM1254 1214L1264 1218L1259 1224ZM1280 1198L1286 1208L1279 1210ZM1287 1223L1298 1226L1294 1232ZM1136 1219L1145 1226L1138 1230ZM1150 1216L1159 1222L1152 1227ZM1171 1222L1181 1227L1175 1232ZM1182 1224L1192 1230L1186 1235ZM1233 1218L1240 1226L1233 1229ZM1248 1226L1258 1230L1253 1236ZM1261 1238L1272 1240L1268 1247ZM1278 1227L1289 1230L1285 1236ZM1294 1234L1305 1235L1302 1242ZM1168 1224L1174 1233L1167 1235ZM1185 1230L1194 1237L1187 1241ZM1186 1236L1196 1239L1192 1246ZM1211 1245L1222 1250L1216 1255ZM1241 1256L1252 1257L1248 1264ZM1258 1251L1268 1256L1262 1261ZM1269 1266L1280 1262L1280 1270ZM1287 1264L1296 1257L1298 1265ZM1296 1260L1306 1256L1306 1264ZM1323 1266L1334 1262L1334 1270ZM1189 1247L1198 1254L1191 1258ZM1227 1253L1236 1260L1229 1264ZM1253 1264L1261 1267L1255 1272ZM1261 1275L1270 1275L1267 1282ZM1291 1273L1299 1272L1296 1279ZM1296 1279L1306 1274L1307 1282ZM1315 1280L1324 1273L1326 1281ZM1345 1268L1356 1265L1355 1273ZM1352 1281L1361 1274L1363 1282ZM1382 1284L1391 1277L1393 1285ZM1210 1283L1221 1282L1219 1290ZM1226 1279L1237 1281L1233 1288ZM1283 1285L1291 1287L1286 1293ZM1285 1281L1296 1285L1291 1291ZM1296 1293L1306 1287L1307 1294ZM1317 1294L1327 1291L1327 1298ZM1344 1302L1352 1294L1355 1301ZM1360 1299L1370 1294L1371 1301ZM1371 1294L1381 1288L1382 1296ZM1402 1284L1412 1281L1412 1289ZM1202 1290L1212 1294L1207 1300ZM1226 1301L1237 1302L1233 1309ZM1265 1304L1272 1303L1268 1310ZM1273 1295L1284 1298L1280 1304ZM1311 1297L1322 1297L1320 1304ZM1345 1310L1356 1306L1356 1313ZM1371 1318L1381 1312L1382 1319ZM1377 1292L1388 1293L1385 1300ZM1405 1290L1416 1294L1411 1300ZM1416 1289L1426 1293L1421 1299ZM1434 1301L1445 1301L1442 1309ZM1254 1303L1264 1309L1258 1313ZM1272 1304L1282 1309L1276 1315ZM1280 1306L1291 1310L1286 1315ZM1312 1316L1322 1316L1320 1323ZM1335 1315L1347 1315L1344 1323ZM1346 1318L1357 1318L1355 1325ZM1369 1315L1381 1317L1377 1324ZM1407 1310L1417 1314L1412 1320ZM1438 1305L1447 1311L1441 1315ZM1471 1311L1481 1314L1475 1320ZM1254 1324L1263 1330L1256 1335ZM1265 1319L1276 1322L1272 1328ZM1292 1320L1302 1325L1296 1330ZM1312 1329L1323 1331L1319 1338ZM1320 1326L1332 1326L1329 1333ZM1336 1327L1348 1327L1345 1334ZM1378 1316L1388 1320L1382 1326ZM1385 1340L1395 1337L1395 1345ZM1437 1326L1448 1329L1443 1335ZM1458 1327L1469 1330L1464 1336ZM1258 1333L1268 1338L1262 1343ZM1272 1346L1283 1349L1278 1355ZM1302 1331L1310 1339L1303 1342ZM1313 1327L1321 1335L1314 1338ZM1314 1335L1325 1338L1320 1344ZM1330 1336L1341 1337L1338 1344ZM1346 1340L1358 1340L1355 1347ZM1373 1337L1382 1342L1376 1347ZM1394 1330L1405 1334L1400 1340ZM1415 1340L1426 1344L1421 1350ZM1453 1331L1461 1338L1454 1342ZM1478 1342L1484 1347L1477 1351ZM1500 1342L1507 1344L1500 1348ZM1518 1349L1522 1353L1514 1354ZM1271 1342L1279 1349L1272 1353ZM1310 1340L1316 1349L1309 1351ZM1313 1357L1324 1360L1319 1366ZM1337 1348L1346 1355L1339 1359ZM1356 1349L1366 1354L1361 1359ZM1381 1343L1391 1348L1385 1353ZM1397 1349L1407 1354L1402 1359ZM1429 1344L1438 1351L1431 1355ZM1475 1346L1481 1356L1473 1357ZM1498 1361L1498 1370L1491 1367ZM1281 1368L1292 1371L1287 1377ZM1308 1367L1317 1374L1310 1378ZM1316 1364L1327 1366L1323 1373ZM1348 1364L1355 1372L1348 1375ZM1357 1360L1367 1366L1361 1371ZM1383 1363L1391 1371L1384 1374ZM1416 1365L1425 1372L1418 1376ZM1447 1350L1454 1359L1446 1361ZM1469 1363L1472 1374L1464 1373ZM1516 1372L1513 1381L1507 1375ZM1527 1374L1525 1382L1519 1376ZM1536 1371L1539 1378L1531 1376ZM1323 1373L1330 1381L1322 1384ZM1349 1377L1355 1386L1347 1388ZM1358 1372L1364 1382L1356 1383ZM1383 1373L1389 1383L1381 1385ZM1383 1378L1392 1384L1386 1389ZM1418 1374L1422 1385L1414 1385ZM1434 1380L1441 1388L1433 1391ZM1440 1391L1451 1393L1447 1400ZM1481 1386L1484 1395L1476 1393ZM1509 1394L1506 1402L1501 1395ZM1518 1388L1520 1396L1513 1395ZM1554 1389L1558 1393L1550 1393ZM1356 1388L1363 1397L1355 1399ZM1365 1380L1372 1389L1364 1391ZM1414 1389L1420 1399L1412 1400ZM1404 1395L1415 1398L1410 1404ZM1444 1406L1452 1413L1445 1416ZM1451 1422L1458 1417L1459 1425ZM1474 1417L1481 1415L1478 1422ZM1378 1402L1385 1411L1378 1414ZM1412 1396L1420 1404L1413 1407ZM1433 1415L1439 1424L1431 1426Z" fill="#000"/>
<circle cx="771.7" cy="175.6" r="15.1" fill="#a00000" stroke="#000" stroke-width="2.1"/>
<circle cx="700.5" cy="302.0" r="15.1" fill="#a00000" stroke="#000" stroke-width="2.1"/>
<circle cx="707.2" cy="386.3" r="15.1" fill="#a00000" stroke="#000" stroke-width="2.1"/>
<circle cx="805.8" cy="458.3" r="15.1" fill="#a00000" stroke="#000" stroke-width="2.1"/>
<circle cx="843.4" cy="533.0" r="15.1" fill="#a00000" stroke="#000" stroke-width="2.1"/>
<circle cx="919.0" cy="646.8" r="15.1" fill="#a00000" stroke="#000" stroke-width="2.1"/>
<circle cx="947.5" cy="720.5" r="15.1" fill="#a00000" stroke="#000" stroke-width="2.1"/>
<circle cx="997.7" cy="813.0" r="15.1" fill="#a00000" stroke="#000" stroke-width="2.1"/>
<circle cx="1041.4" cy="896.8" r="15.1" fill="#a00000" stroke="#000" stroke-width="2.1"/>
<circle cx="1118.8" cy="1029.0" r="15.1" fill="#a00000" stroke="#000" stroke-width="2.1"/>
<circle cx="1206.3" cy="1155.3" r="15.1" fill="#a00000" stroke="#000" stroke-width="2.1"/>
<circle cx="1335.5" cy="1229.4" r="15.1" fill="#a00000" stroke="#000" stroke-width="2.1"/>
<circle cx="1527.7" cy="1354.9" r="15.1" fill="#a00000" stroke="#000" stroke-width="2.1"/>
<g font-family="Liberation Sans" font-weight="bold" fill="#000"><text x="783.8" y="197.7" font-size="61.9">Puerto Pizarro</text><text x="713.4" y="323.9" font-size="60.4">Paita</text><text x="723.4" y="407.4" font-size="60.9">Punta La Negra</text><text x="818.4" y="479.4" font-size="62.0">Pimentel</text><text x="855.1" y="553.9" font-size="60.7">Chicama</text><text x="930.8" y="669.1" font-size="62.2">Chimbote</text><text x="959.7" y="741.7" font-size="61.5">Huarmey</text><text x="1009.5" y="835.9" font-size="62.1">Huacho</text><text x="1054.2" y="919.0" font-size="61.6">Callao</text><text x="1136.1" y="1050.3" font-size="61.6">Pisco</text><text x="1227.4" y="1160.1" font-size="61.7">San Juan</text><text x="1359.5" y="1243.0" font-size="61.6">Atico</text><text x="1552.0" y="1375.6" font-size="62.6">Ilo</text></g></g>
<rect x="249" y="51" width="1395" height="1547" fill="none" stroke="#000" stroke-width="2"/>
<g stroke="#000" stroke-width="2"><line x1="290.0" y1="51" x2="290.0" y2="36"/><line x1="290.0" y1="1598" x2="290.0" y2="1613"/><line x1="540.9" y1="51" x2="540.9" y2="36"/><line x1="540.9" y1="1598" x2="540.9" y2="1613"/><line x1="791.7" y1="51" x2="791.7" y2="36"/><line x1="791.7" y1="1598" x2="791.7" y2="1613"/><line x1="1042.6" y1="51" x2="1042.6" y2="36"/><line x1="1042.6" y1="1598" x2="1042.6" y2="1613"/><line x1="1293.4" y1="51" x2="1293.4" y2="36"/><line x1="1293.4" y1="1598" x2="1293.4" y2="1613"/><line x1="1544.3" y1="51" x2="1544.3" y2="36"/><line x1="1544.3" y1="1598" x2="1544.3" y2="1613"/><line x1="249" y1="51.3" x2="233" y2="51.3"/><line x1="1644" y1="51.3" x2="1661" y2="51.3"/><line x1="249" y1="134.9" x2="233" y2="134.9"/><line x1="1644" y1="134.9" x2="1661" y2="134.9"/><line x1="249" y1="218.5" x2="233" y2="218.5"/><line x1="1644" y1="218.5" x2="1661" y2="218.5"/><line x1="249" y1="302.2" x2="233" y2="302.2"/><line x1="1644" y1="302.2" x2="1661" y2="302.2"/><line x1="249" y1="385.8" x2="233" y2="385.8"/><line x1="1644" y1="385.8" x2="1661" y2="385.8"/><line x1="249" y1="469.4" x2="233" y2="469.4"/><line x1="1644" y1="469.4" x2="1661" y2="469.4"/><line x1="249" y1="553.0" x2="233" y2="553.0"/><line x1="1644" y1="553.0" x2="1661" y2="553.0"/><line x1="249" y1="636.6" x2="233" y2="636.6"/><line x1="1644" y1="636.6" x2="1661" y2="636.6"/><line x1="249" y1="720.3" x2="233" y2="720.3"/><line x1="1644" y1="720.3" x2="1661" y2="720.3"/><line x1="249" y1="803.9" x2="233" y2="803.9"/><line x1="1644" y1="803.9" x2="1661" y2="803.9"/><line x1="249" y1="887.5" x2="233" y2="887.5"/><line x1="1644" y1="887.5" x2="1661" y2="887.5"/><line x1="249" y1="971.1" x2="233" y2="971.1"/><line x1="1644" y1="971.1" x2="1661" y2="971.1"/><line x1="249" y1="1054.7" x2="233" y2="1054.7"/><line x1="1644" y1="1054.7" x2="1661" y2="1054.7"/><line x1="249" y1="1138.4" x2="233" y2="1138.4"/><line x1="1644" y1="1138.4" x2="1661" y2="1138.4"/><line x1="249" y1="1222.0" x2="233" y2="1222.0"/><line x1="1644" y1="1222.0" x2="1661" y2="1222.0"/><line x1="249" y1="1305.6" x2="233" y2="1305.6"/><line x1="1644" y1="1305.6" x2="1661" y2="1305.6"/><line x1="249" y1="1389.2" x2="233" y2="1389.2"/><line x1="1644" y1="1389.2" x2="1661" y2="1389.2"/><line x1="249" y1="1472.8" x2="233" y2="1472.8"/><line x1="1644" y1="1472.8" x2="1661" y2="1472.8"/><line x1="249" y1="1556.5" x2="233" y2="1556.5"/><line x1="1644" y1="1556.5" x2="1661" y2="1556.5"/></g>
<g font-family="Liberation Sans" font-size="63" fill="#000"><text x="221" y="72.8" text-anchor="end">2°S</text><text x="221" y="156.4" text-anchor="end">3°S</text><text x="221" y="240.0" text-anchor="end">4°S</text><text x="221" y="323.7" text-anchor="end">5°S</text><text x="221" y="407.3" text-anchor="end">6°S</text><text x="221" y="490.9" text-anchor="end">7°S</text><text x="221" y="574.5" text-anchor="end">8°S</text><text x="221" y="658.1" text-anchor="end">9°S</text><text x="221" y="741.8" text-anchor="end">10°S</text><text x="221" y="825.4" text-anchor="end">11°S</text><text x="221" y="909.0" text-anchor="end">12°S</text><text x="221" y="992.6" text-anchor="end">13°S</text><text x="221" y="1076.2" text-anchor="end">14°S</text><text x="221" y="1159.9" text-anchor="end">15°S</text><text x="221" y="1243.5" text-anchor="end">16°S</text><text x="221" y="1327.1" text-anchor="end">17°S</text><text x="221" y="1410.7" text-anchor="end">18°S</text><text x="221" y="1494.3" text-anchor="end">19°S</text><text x="221" y="1578.0" text-anchor="end">20°S</text><text x="290.0" y="1679.5" text-anchor="middle">86°W</text><text x="540.9" y="1679.5" text-anchor="middle">83°W</text><text x="791.7" y="1679.5" text-anchor="middle">80°W</text><text x="1042.6" y="1679.5" text-anchor="middle">77°W</text><text x="1293.4" y="1679.5" text-anchor="middle">74°W</text><text x="1544.3" y="1679.5" text-anchor="middle">71°W</text></g>
<g font-family="Liberation Sans" font-weight="bold" font-size="53.5" fill="#000"><text x="291" y="193.4">19/02/26</text><text x="291" y="238.8">21/02/26</text><text x="291" y="321.4">23/02/26</text><text x="291" y="366.2">25/02/26</text><text x="291" y="466.09999999999997">27/02/26</text><text x="291" y="511.4">01/03/26</text><text x="291" y="557.6">03/03/26</text><text x="291" y="606.4">06/03/26</text><text x="291" y="681.6">08/03/26</text><text x="291" y="802.8">10/03/26</text><text x="291" y="925.0">12/03/26</text><text x="291" y="968.0">14/03/26</text><text x="291" y="1038.0">17/03/26</text><text x="291" y="1084.4">19/03/26</text><text x="291" y="1219.7">21/03/26</text><text x="291" y="1287.8000000000002">25/03/26</text><text x="291" y="1396.8000000000002">29/03/26</text><text x="291" y="1443.2">31/03/26</text><text x="290" y="1551.5" font-size="62">Velocidad del Viento (m/s)</text></g>
<g font-family="Liberation Sans" font-size="56.5" fill="#000"><rect x="1704.5" y="1490.21" width="41.0" height="57.39" fill="#f0f0f0"/><rect x="1704.5" y="1433.42" width="41.0" height="57.39" fill="#b4b4f4"/><rect x="1704.5" y="1376.62" width="41.0" height="57.39" fill="#7878f5"/><rect x="1704.5" y="1319.83" width="41.0" height="57.39" fill="#4040ff"/><rect x="1704.5" y="1263.04" width="41.0" height="57.39" fill="#0000ff"/><rect x="1704.5" y="1206.25" width="41.0" height="57.39" fill="#0040ff"/><rect x="1704.5" y="1149.46" width="41.0" height="57.39" fill="#0080ff"/><rect x="1704.5" y="1092.67" width="41.0" height="57.39" fill="#00c0ff"/><rect x="1704.5" y="1035.88" width="41.0" height="57.39" fill="#00ffff"/><rect x="1704.5" y="979.08" width="41.0" height="57.39" fill="#2affd4"/><rect x="1704.5" y="922.29" width="41.0" height="57.39" fill="#55ffaa"/><rect x="1704.5" y="865.50" width="41.0" height="57.39" fill="#80ff80"/><rect x="1704.5" y="808.71" width="41.0" height="57.39" fill="#aaff55"/><rect x="1704.5" y="751.92" width="41.0" height="57.39" fill="#d4ff2a"/><rect x="1704.5" y="695.12" width="41.0" height="57.39" fill="#ffff00"/><rect x="1704.5" y="638.33" width="41.0" height="57.39" fill="#ffd400"/><rect x="1704.5" y="581.54" width="41.0" height="57.39" fill="#ffaa00"/><rect x="1704.5" y="524.75" width="41.0" height="57.39" fill="#ff8000"/><rect x="1704.5" y="467.96" width="41.0" height="57.39" fill="#ff5500"/><rect x="1704.5" y="411.17" width="41.0" height="57.39" fill="#ff2a00"/><rect x="1704.5" y="354.38" width="41.0" height="57.39" fill="#ff0000"/><rect x="1704.5" y="297.58" width="41.0" height="57.39" fill="#d40000"/><rect x="1704.5" y="240.79" width="41.0" height="57.39" fill="#aa0000"/><rect x="1704.5" y="184.00" width="41.0" height="57.39" fill="#800000"/><line x1="1704.5" y1="1433.4" x2="1717.5" y2="1433.4" stroke="#000" stroke-width="2"/><line x1="1732.5" y1="1433.4" x2="1745.5" y2="1433.4" stroke="#000" stroke-width="2"/><line x1="1704.5" y1="1319.8" x2="1717.5" y2="1319.8" stroke="#000" stroke-width="2"/><line x1="1732.5" y1="1319.8" x2="1745.5" y2="1319.8" stroke="#000" stroke-width="2"/><line x1="1704.5" y1="1206.2" x2="1717.5" y2="1206.2" stroke="#000" stroke-width="2"/><line x1="1732.5" y1="1206.2" x2="1745.5" y2="1206.2" stroke="#000" stroke-width="2"/><line x1="1704.5" y1="1092.7" x2="1717.5" y2="1092.7" stroke="#000" stroke-width="2"/><line x1="1732.5" y1="1092.7" x2="1745.5" y2="1092.7" stroke="#000" stroke-width="2"/><line x1="1704.5" y1="979.1" x2="1717.5" y2="979.1" stroke="#000" stroke-width="2"/><line x1="1732.5" y1="979.1" x2="1745.5" y2="979.1" stroke="#000" stroke-width="2"/><line x1="1704.5" y1="865.5" x2="1717.5" y2="865.5" stroke="#000" stroke-width="2"/><line x1="1732.5" y1="865.5" x2="1745.5" y2="865.5" stroke="#000" stroke-width="2"/><line x1="1704.5" y1="751.9" x2="1717.5" y2="751.9" stroke="#000" stroke-width="2"/><line x1="1732.5" y1="751.9" x2="1745.5" y2="751.9" stroke="#000" stroke-width="2"/><line x1="1704.5" y1="638.3" x2="1717.5" y2="638.3" stroke="#000" stroke-width="2"/><line x1="1732.5" y1="638.3" x2="1745.5" y2="638.3" stroke="#000" stroke-width="2"/><line x1="1704.5" y1="524.8" x2="1717.5" y2="524.8" stroke="#000" stroke-width="2"/><line x1="1732.5" y1="524.8" x2="1745.5" y2="524.8" stroke="#000" stroke-width="2"/><line x1="1704.5" y1="411.2" x2="1717.5" y2="411.2" stroke="#000" stroke-width="2"/><line x1="1732.5" y1="411.2" x2="1745.5" y2="411.2" stroke="#000" stroke-width="2"/><line x1="1704.5" y1="297.6" x2="1717.5" y2="297.6" stroke="#000" stroke-width="2"/><line x1="1732.5" y1="297.6" x2="1745.5" y2="297.6" stroke="#000" stroke-width="2"/><rect x="1704.5" y="184" width="41.0" height="1363" fill="none" stroke="#000" stroke-width="2"/><text x="1758" y="1568.0">0</text><text x="1758" y="1454.4">1</text><text x="1758" y="1340.8">2</text><text x="1758" y="1227.2">3</text><text x="1758" y="1113.7">4</text><text x="1758" y="1000.1">5</text><text x="1758" y="886.5">6</text><text x="1758" y="772.9">7</text><text x="1758" y="659.3">8</text><text x="1758" y="545.8">9</text><text x="1758" y="432.2">10</text><text x="1758" y="318.6">11</text><text x="1758" y="205.0">12</text><text x="1688" y="139" font-size="59">m/s</text></g>
</svg>
</body></html>
